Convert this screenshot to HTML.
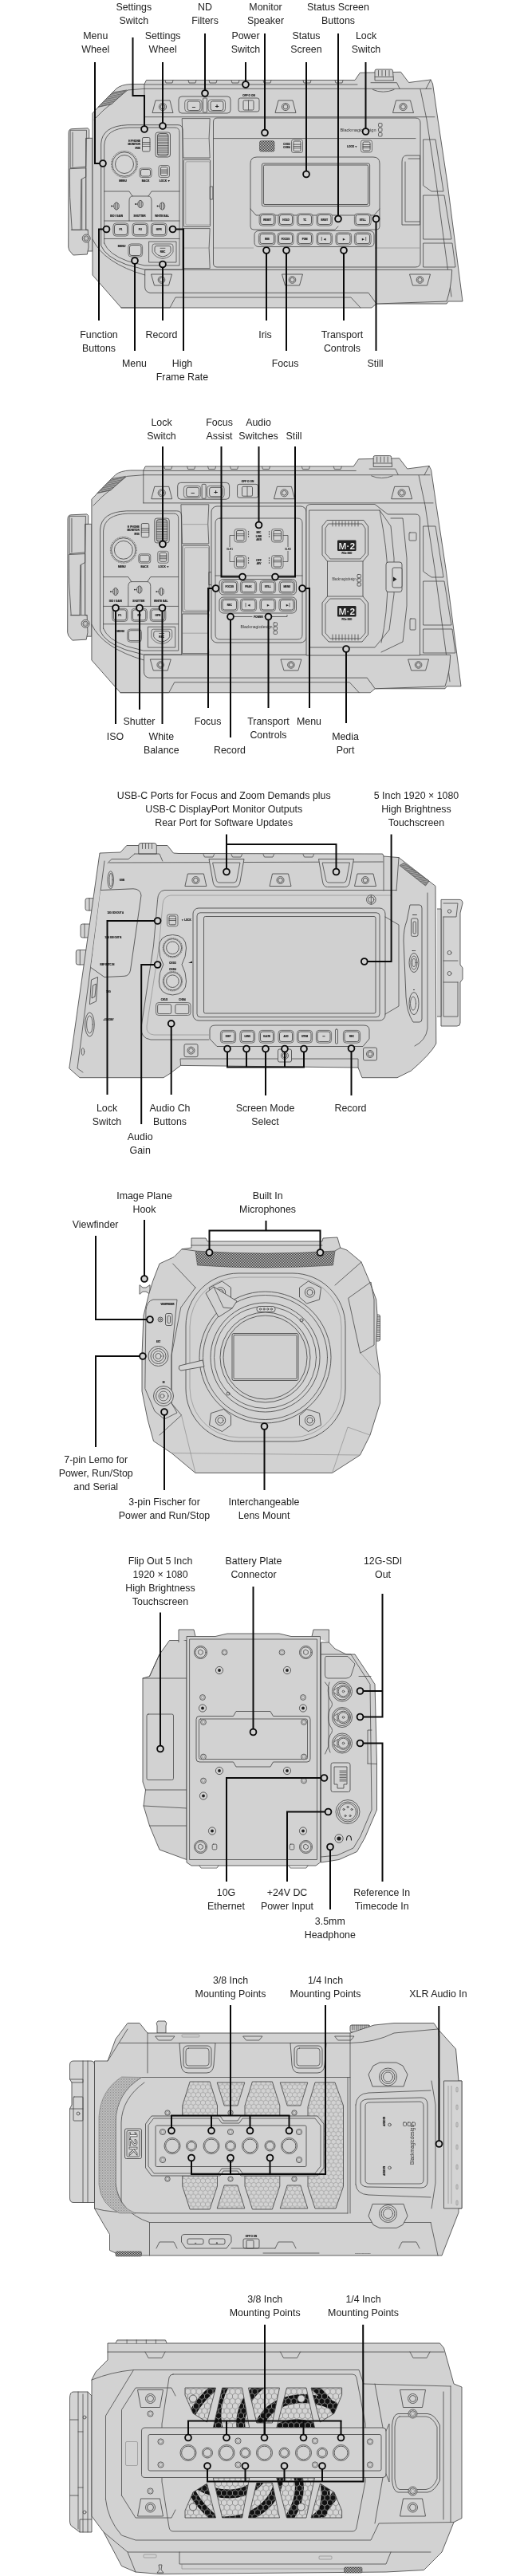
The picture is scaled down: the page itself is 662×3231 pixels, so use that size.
<!DOCTYPE html>
<html lang="en"><head><meta charset="utf-8"><title>Camera Controls</title>
<style>
html,body{margin:0;padding:0;background:#fff}
svg{display:block;will-change:transform}
.s{fill:#d2d2d2;stroke:#474747;stroke-width:.85;stroke-linejoin:round}
.s2{fill:#d2d2d2;stroke:#474747;stroke-width:.7}
.s3{fill:#d4d4d4;stroke:#3c3c3c;stroke-width:.8}
.l{fill:#d4d4d4;stroke:#474747;stroke-width:.85;stroke-linejoin:round}
.d{fill:#d0d0d0;stroke:#474747;stroke-width:.85;stroke-linejoin:round}
.n{fill:none;stroke:#474747;stroke-width:.8;stroke-linejoin:round;stroke-linecap:round}
.n2{fill:none;stroke:#7a7a7a;stroke-width:.55}
.h{fill:#555;stroke:#333;stroke-width:.5}
.bk{fill:#222;stroke:none}
.hx{fill:url(#hex6);stroke:#474747;stroke-width:.85;stroke-linejoin:round}
.hx7{fill:url(#hex);stroke:#474747;stroke-width:.85;stroke-linejoin:round}
.hat{fill:url(#hat);stroke:#474747;stroke-width:.7}
.k{fill:none;stroke:#0a0a0a;stroke-width:2;stroke-linejoin:miter}
.kr{fill:#d2d2d2;stroke:#0a0a0a;stroke-width:1.85}
.t{font-family:"Liberation Sans",sans-serif;font-size:12.4px;fill:#222}
.y{font-family:"Liberation Sans",sans-serif;font-weight:bold;fill:#222;stroke:#222;stroke-width:.18}
.yl{font-family:"Liberation Sans",sans-serif;fill:#333}
</style></head>
<body>
<svg width="662" height="3231" viewBox="0 0 662 3231">
<defs>
<pattern id="hx" width="3" height="3" patternUnits="userSpaceOnUse"><rect width="3" height="3" fill="#bdbdbd"/><circle cx="1.5" cy="1.5" r="1" fill="#e8e8e8"/></pattern>
<pattern id="mesh" width="2" height="2" patternUnits="userSpaceOnUse"><rect width="2" height="2" fill="#3a3a3a"/><rect width="1" height="1" fill="#c4c4c4"/><rect x="1" y="1" width="1" height="1" fill="#c4c4c4"/></pattern>
<pattern id="hex" width="7.00" height="12.12" patternUnits="userSpaceOnUse" x="1" y="2"><path d="M3.50,0 L7.00,2.02 L7.00,6.06 L3.50,8.08 L0,6.06 L0,2.02Z M3.50,8.08 L3.50,12.12" fill="none" stroke="#8e8e8e" stroke-width=".9"/></pattern>
<pattern id="hex6" width="6.06" height="9.81" patternUnits="userSpaceOnUse"><rect width="6.06" height="9.81" fill="#d2d2d2"/><path d="M3.03,0 L6.06,1.64 L6.06,4.91 L3.03,6.54 L0,4.91 L0,1.64Z M3.03,6.54 L3.03,9.81" fill="none" stroke="#a3a3a3" stroke-width=".8"/></pattern>
<pattern id="hat" width="2.4" height="2.4" patternUnits="userSpaceOnUse" patternTransform="rotate(-12)"><rect width="2.4" height="2.4" fill="#a8a8a8"/><rect width="2.4" height="1.2" fill="#707070"/></pattern>
<pattern id="mesh3" width="2" height="2" patternUnits="userSpaceOnUse"><rect width="2" height="2" fill="#c6c6c6"/><rect width="1" height="1" fill="#8f8f8f"/><rect x="1" y="1" width="1" height="1" fill="#a8a8a8"/></pattern>
</defs>
<rect width="662" height="3231" fill="#fff"/>
<!-- d1 -->
<rect class="s" x="107.7" y="173.3" width="8.3" height="141.7"/>
<path class="s" d="M86,166.7 Q86,162 90,161.7 L110,160.8 L111.8,162.5 L111.8,173.3 L107.7,173.3 L107.7,288.3 L110.2,288.3 L111,310 L109.3,319 L91.8,320 L86.8,314 L85.7,310 Z"/>
<path class="n" d="M88.5,163.3 L108.5,163.3 L107.7,209 L88.5,210.8 Z"/>
<path class="n" d="M87.7,211.7 L107.7,210.8 L107.7,221.7 L101.8,225 L101,288.3 L90.2,288.3 L87.7,248 Z"/>
<path class="n" d="M89.3,288.3 L110.2,288.3 M102.7,225 L102.7,288 M91,166 L91,209"/>
<circle class="s" cx="108.2" cy="299" r="5"/>
<circle class="n" cx="108.2" cy="299" r="3.2"/>
<circle class="n2" cx="108.2" cy="299" r="1.8"/>
<path class="s" d="M183.5,100.5 L445,100.5 L451.3,91.3 L502.5,90.3 L512.5,103.5 L540,100 L542.5,105 L549,150 L561,230 L580,378 L562,378 L560,381 L472,381 L466,386 L152,386 L116,345 L116,142 L124,133.5 L146,111 Q152,106 165,105.5 L181,105.5 Z"/>
<path class="s" d="M470,101 L470,89 Q470,87 472,87 L490.5,87 Q492.5,87 492.5,89 L493.5,101 Z"/>
<path class="n" d="M474.5,88.5 L474.5,95"/>
<path class="n" d="M479,88.5 L479,95"/>
<path class="n" d="M483.5,88.5 L483.5,95"/>
<path class="n" d="M488,88.5 L488,95"/>
<path class="n" d="M470,96.5 L493,96.5"/>
<path class="n" d="M465,103.7 L497.5,103.7 L501,111 M467.5,112.5 Q480,118 494,112.5"/>
<path class="n" d="M181,106 L448,106"/>
<path class="n" d="M181,106 L181,146.7"/>
<path class="n" d="M181,111.3 L541,111.3"/>
<path class="n" d="M118,150 L130,138 L160,113 L181,111.3"/>
<path class="n" d="M181,146.7 L545,146.7"/>
<path class="n" d="M207,100.7 L208,104 L216,104 L217,100.7"/>
<path class="n" d="M236,100.7 L237,104 L245,104 L246,100.7"/>
<path class="n" d="M262,100.7 L263,104 L271,104 L272,100.7"/>
<path class="n" d="M290,100.7 L291,104 L299,104 L300,100.7"/>
<path class="n" d="M330,100.7 L331,104 L339,104 L340,100.7"/>
<path class="n" d="M380,100.7 L381,104 L389,104 L390,100.7"/>
<path class="n" d="M420,100.7 L421,104 L429,104 L430,100.7"/>
<path class="hat" d="M123,134.4 L141,116 L158.7,113 L145,126 L140,130.6Z"/>
<path class="n" d="M527,112 L535,150 L547,230 L566,372"/>
<path class="n" d="M540,100 L534,111.3"/>
<path class="s" d="M181.7,338.3 L566.7,338.3 Q566,360 560,378 L472,381 L462,367.3 L188,367.3 Q181.7,366 181.7,360 Z"/>
<path class="n" d="M152,386 L213,386 L220,373 L440,373 L452,386"/>
<path class="n" d="M116,300 Q130,330 181.7,345"/>
<path class="s" d="M189.5,344 L215.5,344 L211.5,358 L193.5,358Z"/>
<circle class="s" cx="202.5" cy="351" r="4.3"/>
<circle class="s" cx="202.5" cy="351" r="2.7"/>
<path class="s" d="M353.5,344 L379.5,344 L375.5,358 L357.5,358Z"/>
<circle class="s" cx="366.5" cy="351" r="4.3"/>
<circle class="s" cx="366.5" cy="351" r="2.7"/>
<path class="s" d="M513.5,344 L539.5,344 L535.5,358 L517.5,358Z"/>
<circle class="s" cx="526.5" cy="351" r="4.3"/>
<circle class="s" cx="526.5" cy="351" r="2.7"/>
<path class="s" d="M195,126 L213,126 L217,141.5 L191,141.5Z"/>
<circle class="s" cx="204" cy="134" r="4.6"/>
<circle class="s" cx="204" cy="134" r="2.9"/>
<path class="s" d="M349,126 L367,126 L371,141.5 L345,141.5Z"/>
<circle class="s" cx="358" cy="134" r="4.6"/>
<circle class="s" cx="358" cy="134" r="2.9"/>
<path class="s" d="M496.5,126 L514.5,126 L518.5,141.5 L492.5,141.5Z"/>
<circle class="s" cx="505.5" cy="134" r="4.6"/>
<circle class="s" cx="505.5" cy="134" r="2.9"/>
<rect class="s" x="224" y="121" width="65" height="21" rx="4"/>
<rect class="s2" x="231.7" y="125" width="21.3" height="15" rx="3.5"/>
<rect class="s3" x="235" y="127" width="16" height="11.5" rx="2.5"/>
<rect class="s2" x="261" y="125" width="21.5" height="15" rx="3.5"/>
<rect class="s3" x="264" y="127" width="16" height="11.5" rx="2.5"/>
<rect class="s" x="254.5" y="123" width="5" height="18" rx="1"/>
<text class="y" x="243" y="135.5" font-size="8" text-anchor="middle">&#8211;</text>
<text class="y" x="272" y="135.6" font-size="8" text-anchor="middle">+</text>
<rect class="s" x="299" y="123" width="26" height="17" rx="2.5"/>
<rect class="s3" x="305" y="126" width="13" height="12" rx="1.5"/>
<path class="n" d="M311.5,126 L311.5,138"/>
<text class="y" x="312" y="120.5" font-size="3.2" text-anchor="middle">OFF  O  ON</text>
<path class="s" d="M126.7,308 L126.7,180 Q128,158 160,156.7 L223,156.7 Q229,156.7 229,163 L229,338 L181,338 L158,331.7 Q132,322 126.7,308 Z"/>
<path class="n" d="M130.7,305 L130.7,182 Q132,161 162,160 L219,160 Q225,160 225,166 L225,333 L181,333 L160,327.5 Q136,319 130.7,305 Z"/>
<rect class="s3" x="178.5" y="172.5" width="9.5" height="17.5" rx="1.5"/>
<path class="n" d="M178.5,178.5 L188,178.5"/>
<path class="n" d="M178.5,181 L188,181"/>
<path class="n" d="M178.5,183.5 L188,183.5"/>
<text class="y" x="176" y="178" font-size="3.3" text-anchor="end">H PHONE</text>
<text class="y" x="176" y="182.3" font-size="3.3" text-anchor="end">MONITOR</text>
<text class="y" x="176" y="186.6" font-size="3.3" text-anchor="end">IRIS</text>
<rect class="s" x="195" y="166" width="18.5" height="31" rx="3"/>
<rect class="d" x="197.5" y="167.5" width="13.5" height="28" rx="3"/>
<path class="n" d="M197.5,169.7 L211,169.7"/>
<path class="n" d="M197.5,171.8 L211,171.8"/>
<path class="n" d="M197.5,174 L211,174"/>
<path class="n" d="M197.5,176.1 L211,176.1"/>
<path class="n" d="M197.5,178.3 L211,178.3"/>
<path class="n" d="M197.5,180.4 L211,180.4"/>
<path class="n" d="M197.5,182.6 L211,182.6"/>
<path class="n" d="M197.5,184.7 L211,184.7"/>
<path class="n" d="M197.5,186.9 L211,186.9"/>
<path class="n" d="M197.5,189 L211,189"/>
<path class="n" d="M197.5,191.2 L211,191.2"/>
<path class="n" d="M197.5,193.3 L211,193.3"/>
<circle class="s" cx="156" cy="206" r="16.5" stroke-dasharray="1.2 .9" stroke-width="1.6"/>
<circle class="s" cx="156" cy="206" r="15.2"/>
<circle class="l" cx="156" cy="206" r="11.5"/>
<rect class="s2" x="175" y="211" width="15" height="11.5" rx="2.5"/>
<rect class="s3" x="176.5" y="212.5" width="12" height="8.5" rx="2"/>
<rect class="s2" x="199" y="207.5" width="13.5" height="15" rx="2.5"/>
<rect class="s3" x="201.5" y="209.5" width="8.5" height="11" rx="1.5"/>
<path class="n" d="M201.5,213 L210,213"/>
<path class="n" d="M201.5,215 L210,215"/>
<path class="n" d="M201.5,217 L210,217"/>
<text class="y" x="154" y="228" font-size="3.3" text-anchor="middle">MENU</text>
<text class="y" x="182.5" y="228" font-size="3.3" text-anchor="middle">BACK</text>
<text class="y" x="206.5" y="228" font-size="3.3" text-anchor="middle">LOCK &#9660;</text>
<path class="n" d="M130.7,240 L162,240 L166,246 L186,246 L190,240 L225,240"/>
<path class="n" d="M130.7,277 L225,277"/>
<path class="n" d="M162,277 L162,252 Q162,246 166,246 M190,277 L190,252 Q190,246 186,246"/>
<ellipse class="s3" cx="146" cy="258.5" rx="3.2" ry="4.2"/>
<rect class="s3" x="144.8" y="253.9" width="2.4" height="9.2" rx="1"/>
<circle class="bk" cx="140" cy="258.5" r="0.9"/>
<path class="n" d="M141,258.5 L142.8,258.5"/>
<ellipse class="s3" cx="176" cy="256" rx="3.2" ry="4.2"/>
<rect class="s3" x="174.8" y="251.4" width="2.4" height="9.2" rx="1"/>
<circle class="bk" cx="170" cy="256" r="0.9"/>
<path class="n" d="M171,256 L172.8,256"/>
<ellipse class="s3" cx="203.5" cy="258.5" rx="3.2" ry="4.2"/>
<rect class="s3" x="202.3" y="253.9" width="2.4" height="9.2" rx="1"/>
<circle class="bk" cx="197.5" cy="258.5" r="0.9"/>
<path class="n" d="M198.5,258.5 L200.3,258.5"/>
<text class="y" x="146" y="271.5" font-size="3.2" text-anchor="middle">ISO / GAIN</text>
<text class="y" x="175" y="271.5" font-size="3.2" text-anchor="middle">SHUTTER</text>
<text class="y" x="203" y="271.5" font-size="3.2" text-anchor="middle">WHITE BAL</text>
<rect class="s2" x="141.9" y="279.9" width="19.2" height="16.2" rx="3.7"/>
<rect class="s3" x="143.5" y="281.5" width="16" height="13" rx="2.5"/>
<text class="y" x="151.5" y="289.2" font-size="3.4" text-anchor="middle">F1</text>
<rect class="s2" x="165.9" y="279.9" width="19.7" height="16.2" rx="3.7"/>
<rect class="s3" x="167.5" y="281.5" width="16.5" height="13" rx="2.5"/>
<text class="y" x="175.8" y="289.2" font-size="3.4" text-anchor="middle">F2</text>
<rect class="s2" x="189.4" y="279.9" width="19.7" height="16.2" rx="3.7"/>
<rect class="s3" x="191" y="281.5" width="16.5" height="13" rx="2.5"/>
<text class="y" x="199.2" y="289.2" font-size="3.4" text-anchor="middle">HFR</text>
<path class="n" d="M130.7,299.5 L225,299.5"/>
<rect class="s2" x="160.9" y="305.9" width="17.7" height="16.2" rx="3.7"/>
<rect class="s3" x="162.5" y="307.5" width="14.5" height="13" rx="2.5"/>
<text class="y" x="152.5" y="309.5" font-size="3.3" text-anchor="middle">MENU</text>
<path class="n" d="M187,303 L221,303 L221,329 L187,329 Z"/>
<path class="s2" d="M193.5,306 L214.5,306 Q217,306 217,309 L217,316 Q214,323 204,324.5 Q194,323 191,316 L191,309 Q191,306 193.5,306Z"/>
<path class="s3" d="M196,308.5 L212,308.5 Q214,308.5 214,311 L214,315.5 Q211.5,320.5 204,322 Q196.5,320.5 194,315.5 L194,311 Q194,308.5 196,308.5Z"/>
<text class="y" x="204" y="317.2" font-size="3.2" text-anchor="middle">REC</text>
<path class="n" d="M201,311.3 L207,311.3"/>
<path class="n" d="M228.6,148.6 L263.2,148.6 Q261,173 263.2,198 L230.2,198 Z"/>
<path class="n2" d="M230.2,173.6 L262,173.6"/>
<rect class="s" x="230.2" y="200.2" width="33.4" height="84.1" rx="1.5"/>
<rect class="n2" x="232.8" y="202.8" width="30.4" height="79.2" rx="1.5"/>
<path class="n" d="M230.2,286.6 L263.2,286.6 Q261,311 263.2,336.6 L230.2,336.6 Z"/>
<path class="n2" d="M230.2,311 L262,311"/>
<rect class="n" x="263.6" y="234" width="3.2" height="16"/>
<path class="s" d="M272,148 L521,148 Q527,148 527,154 L527,329 Q527,335 521,335 L272,335 Q267.5,335 267.5,330 L267.5,153 Q267.5,148 272,148Z"/>
<path class="n" d="M268,173.6 L521,173.6"/>
<path class="n2" d="M268,311 L318,311 M470,311 L526,311"/>
<rect class="h" x="325.5" y="176.7" width="18.5" height="13.3" rx="2" style="fill:url(#mesh)"/>
<rect class="s2" x="365.5" y="175" width="14" height="16.5" rx="2.5"/>
<rect class="s3" x="368" y="177" width="9" height="12.5" rx="1.5"/>
<path class="n" d="M368,181.2 L377,181.2"/>
<path class="n" d="M368,183.5 L377,183.5"/>
<path class="n" d="M368,185.8 L377,185.8"/>
<text class="y" x="363.5" y="182" font-size="2.9" text-anchor="end">CH1/2</text>
<text class="y" x="363.5" y="186.2" font-size="2.9" text-anchor="end">CH3/4</text>
<text class="yl" x="426.5" y="164.5" font-size="5.6" text-anchor="start" textLength="45" lengthAdjust="spacingAndGlyphs">Blackmagicdesign</text>
<rect class="n" x="474.5" y="154.5" width="4.5" height="4.5" rx="1"/>
<rect class="n" x="474.5" y="160.5" width="4.5" height="4.5" rx="1"/>
<rect class="n" x="474.5" y="166.5" width="4.5" height="4.5" rx="1"/>
<rect class="s2" x="452.5" y="176" width="14" height="15" rx="2.5"/>
<rect class="s3" x="455" y="178" width="9" height="11" rx="1.5"/>
<path class="n" d="M455,181.5 L464,181.5"/>
<path class="n" d="M455,183.5 L464,183.5"/>
<path class="n" d="M455,185.5 L464,185.5"/>
<text class="y" x="441.5" y="184.5" font-size="3.2" text-anchor="middle">LOCK &#9660;</text>
<path class="s" d="M322,197 L468,197 Q476,197 476,205 L476,262 L469,270 L321,270 L314,262 L314,205 Q314,197 322,197Z"/>
<rect class="d" x="328.4" y="205" width="135.2" height="53.5" rx="2"/>
<rect class="d" x="330.5" y="207" width="131" height="49.5" rx="1.5"/>
<path class="n" d="M314,262 L314,284 Q314,288 318,288 L420,288 L424,284 M476,262 L476,284 Q476,288 472,288 L440,288"/>
<rect class="s2" x="325.1" y="267.9" width="20.2" height="15.2" rx="3.7"/>
<rect class="s3" x="326.7" y="269.5" width="17" height="12" rx="2.5"/>
<text class="y" x="335.2" y="276.6" font-size="3" text-anchor="middle">RESET</text>
<rect class="s2" x="348.9" y="267.9" width="19.2" height="15.2" rx="3.7"/>
<rect class="s3" x="350.5" y="269.5" width="16" height="12" rx="2.5"/>
<text class="y" x="358.5" y="276.6" font-size="3" text-anchor="middle">HOLD</text>
<rect class="s2" x="372.4" y="267.9" width="19.7" height="15.2" rx="3.7"/>
<rect class="s3" x="374" y="269.5" width="16.5" height="12" rx="2.5"/>
<text class="y" x="382.2" y="276.6" font-size="3" text-anchor="middle">TC</text>
<rect class="s2" x="396.9" y="267.9" width="19.7" height="15.2" rx="3.7"/>
<rect class="s3" x="398.5" y="269.5" width="16.5" height="12" rx="2.5"/>
<text class="y" x="406.8" y="276.6" font-size="3" text-anchor="middle">BRGT</text>
<rect class="s2" x="444.4" y="267.9" width="20.7" height="15.2" rx="3.7"/>
<rect class="s3" x="446" y="269.5" width="17.5" height="12" rx="2.5"/>
<text class="y" x="454.8" y="276.6" font-size="3" text-anchor="middle">STILL</text>
<rect class="s" x="319" y="289.5" width="150" height="20" rx="5"/>
<rect class="s2" x="324.4" y="291.9" width="20.7" height="15.2" rx="3.7"/>
<rect class="s3" x="326" y="293.5" width="17.5" height="12" rx="2.5"/>
<text class="y" x="334.8" y="300.6" font-size="3" text-anchor="middle">IRIS</text>
<rect class="s2" x="347.9" y="291.9" width="20.2" height="15.2" rx="3.7"/>
<rect class="s3" x="349.5" y="293.5" width="17" height="12" rx="2.5"/>
<text class="y" x="358" y="300.6" font-size="3" text-anchor="middle">FOCUS</text>
<rect class="s2" x="372.4" y="291.9" width="19.7" height="15.2" rx="3.7"/>
<rect class="s3" x="374" y="293.5" width="16.5" height="12" rx="2.5"/>
<text class="y" x="382.2" y="300.6" font-size="3" text-anchor="middle">PGM</text>
<rect class="s2" x="396.9" y="291.9" width="19.7" height="15.2" rx="3.7"/>
<rect class="s3" x="398.5" y="293.5" width="16.5" height="12" rx="2.5"/>
<text class="y" x="406.8" y="300.6" font-size="3" text-anchor="middle">&#9664;</text>
<rect class="s2" x="420.9" y="291.9" width="19.7" height="15.2" rx="3.7"/>
<rect class="s3" x="422.5" y="293.5" width="16.5" height="12" rx="2.5"/>
<text class="y" x="430.8" y="300.6" font-size="3" text-anchor="middle">&#9654;</text>
<rect class="s2" x="444.4" y="291.9" width="20.7" height="15.2" rx="3.7"/>
<rect class="s3" x="446" y="293.5" width="17.5" height="12" rx="2.5"/>
<text class="y" x="454.8" y="300.6" font-size="3" text-anchor="middle">&#9654;</text>
<path class="n" d="M403.3,297.5 L403.3,301.5"/>
<path class="n" d="M458.7,297.5 L458.7,301.5"/>
<path class="s" d="M510,195 L526.5,195 L526.5,282 L504,282 L504,203 Q504,195 510,195Z"/>
<path class="n" d="M512,199 L526.5,199 M508,203 L508,278 L526.5,278"/>
<path class="n" d="M531,175 L546,175 L556,240 L541,240 L531,233Z"/>
<path class="n" d="M531,245 L557,245 L566,300 L531,300Z"/>
<path class="n" d="M531,305 L567,305 L571,335 L531,335Z"/>
<text class="t" x="167.8" y="12.6" text-anchor="middle">Settings</text>
<text class="t" x="167.8" y="29.6" text-anchor="middle">Switch</text>
<text class="t" x="257" y="12.6" text-anchor="middle">ND</text>
<text class="t" x="257" y="29.6" text-anchor="middle">Filters</text>
<text class="t" x="333" y="12.6" text-anchor="middle">Monitor</text>
<text class="t" x="333" y="29.6" text-anchor="middle">Speaker</text>
<text class="t" x="424" y="12.6" text-anchor="middle">Status Screen</text>
<text class="t" x="424" y="29.6" text-anchor="middle">Buttons</text>
<text class="t" x="119.8" y="48.8" text-anchor="middle">Menu</text>
<text class="t" x="119.8" y="65.8" text-anchor="middle">Wheel</text>
<text class="t" x="204.1" y="48.8" text-anchor="middle">Settings</text>
<text class="t" x="204.1" y="65.8" text-anchor="middle">Wheel</text>
<text class="t" x="308" y="48.8" text-anchor="middle">Power</text>
<text class="t" x="308" y="65.8" text-anchor="middle">Switch</text>
<text class="t" x="384" y="48.8" text-anchor="middle">Status</text>
<text class="t" x="384" y="65.8" text-anchor="middle">Screen</text>
<text class="t" x="459" y="48.8" text-anchor="middle">Lock</text>
<text class="t" x="459" y="65.8" text-anchor="middle">Switch</text>
<text class="t" x="124" y="423.8" text-anchor="middle">Function</text>
<text class="t" x="124" y="440.8" text-anchor="middle">Buttons</text>
<text class="t" x="202.5" y="423.8" text-anchor="middle">Record</text>
<text class="t" x="332.5" y="423.8" text-anchor="middle">Iris</text>
<text class="t" x="429" y="423.8" text-anchor="middle">Transport</text>
<text class="t" x="429" y="440.8" text-anchor="middle">Controls</text>
<text class="t" x="168.5" y="459.5" text-anchor="middle">Menu</text>
<text class="t" x="228.5" y="459.5" text-anchor="middle">High</text>
<text class="t" x="228.5" y="476.5" text-anchor="middle">Frame Rate</text>
<text class="t" x="357.5" y="459.5" text-anchor="middle">Focus</text>
<text class="t" x="470.5" y="459.5" text-anchor="middle">Still</text>
<path class="k" d="M119,78 L119,205 L126,205"/>
<circle class="kr" cx="129" cy="205" r="3.9"/>
<path class="k" d="M166.5,47 L166.5,120 L181,120 L181,159"/>
<circle class="kr" cx="181" cy="162" r="3.9"/>
<path class="k" d="M204,78 L204,155"/>
<circle class="kr" cx="204" cy="158" r="3.9"/>
<path class="k" d="M257,42 L257,114"/>
<circle class="kr" cx="257" cy="117" r="3.9"/>
<path class="k" d="M308,78 L308,103"/>
<circle class="kr" cx="308" cy="106" r="3.9"/>
<path class="k" d="M332,42 L332,163"/>
<circle class="kr" cx="332" cy="166.5" r="3.9"/>
<path class="k" d="M384,78 L384,215"/>
<circle class="kr" cx="384" cy="218.5" r="3.9"/>
<path class="k" d="M424,42 L424,271"/>
<circle class="kr" cx="424" cy="274.5" r="3.9"/>
<path class="k" d="M458.5,78 L458.5,162"/>
<circle class="kr" cx="458.5" cy="165" r="3.9"/>
<path class="k" d="M124,402 L124,287.5 L130,287.5"/>
<circle class="kr" cx="133.5" cy="287.5" r="3.9"/>
<path class="k" d="M169,440 L169,330"/>
<circle class="kr" cx="169" cy="327" r="3.9"/>
<path class="k" d="M204,402 L204,335"/>
<circle class="kr" cx="204" cy="331.5" r="3.9"/>
<path class="k" d="M230,440 L230,287.5 L220,287.5"/>
<circle class="kr" cx="216.5" cy="287.5" r="3.9"/>
<path class="k" d="M334,402 L334,317"/>
<circle class="kr" cx="334" cy="314" r="3.9"/>
<path class="k" d="M359,440 L359,317"/>
<circle class="kr" cx="359" cy="314" r="3.9"/>
<path class="k" d="M431,402 L431,317"/>
<circle class="kr" cx="431" cy="314" r="3.9"/>
<path class="k" d="M471.5,440 L471.5,278"/>
<circle class="kr" cx="471.5" cy="274.5" r="3.9"/>
<!-- d2 -->
<g transform="translate(-0.85,485.1) scale(0.998,0.9939)">
<rect class="s" x="107.7" y="173.3" width="8.3" height="141.7"/>
<path class="s" d="M86,166.7 Q86,162 90,161.7 L110,160.8 L111.8,162.5 L111.8,173.3 L107.7,173.3 L107.7,288.3 L110.2,288.3 L111,310 L109.3,319 L91.8,320 L86.8,314 L85.7,310 Z"/>
<path class="n" d="M88.5,163.3 L108.5,163.3 L107.7,209 L88.5,210.8 Z"/>
<path class="n" d="M87.7,211.7 L107.7,210.8 L107.7,221.7 L101.8,225 L101,288.3 L90.2,288.3 L87.7,248 Z"/>
<path class="n" d="M89.3,288.3 L110.2,288.3 M102.7,225 L102.7,288 M91,166 L91,209"/>
<circle class="s" cx="108.2" cy="299" r="5"/>
<circle class="n" cx="108.2" cy="299" r="3.2"/>
<circle class="n2" cx="108.2" cy="299" r="1.8"/>
<path class="s" d="M183.5,100.5 L445,100.5 L451.3,91.3 L502.5,90.3 L512.5,103.5 L540,100 L542.5,105 L549,150 L561,230 L580,378 L562,378 L560,381 L472,381 L466,386 L152,386 L116,345 L116,142 L124,133.5 L146,111 Q152,106 165,105.5 L181,105.5 Z"/>
<path class="s" d="M470,101 L470,89 Q470,87 472,87 L490.5,87 Q492.5,87 492.5,89 L493.5,101 Z"/>
<path class="n" d="M474.5,88.5 L474.5,95"/>
<path class="n" d="M479,88.5 L479,95"/>
<path class="n" d="M483.5,88.5 L483.5,95"/>
<path class="n" d="M488,88.5 L488,95"/>
<path class="n" d="M470,96.5 L493,96.5"/>
<path class="n" d="M465,103.7 L497.5,103.7 L501,111 M467.5,112.5 Q480,118 494,112.5"/>
<path class="n" d="M181,106 L448,106"/>
<path class="n" d="M181,106 L181,146.7"/>
<path class="n" d="M181,111.3 L541,111.3"/>
<path class="n" d="M118,150 L130,138 L160,113 L181,111.3"/>
<path class="n" d="M181,146.7 L545,146.7"/>
<path class="n" d="M207,100.7 L208,104 L216,104 L217,100.7"/>
<path class="n" d="M236,100.7 L237,104 L245,104 L246,100.7"/>
<path class="n" d="M262,100.7 L263,104 L271,104 L272,100.7"/>
<path class="n" d="M290,100.7 L291,104 L299,104 L300,100.7"/>
<path class="n" d="M330,100.7 L331,104 L339,104 L340,100.7"/>
<path class="n" d="M380,100.7 L381,104 L389,104 L390,100.7"/>
<path class="n" d="M420,100.7 L421,104 L429,104 L430,100.7"/>
<path class="hat" d="M123,134.4 L141,116 L158.7,113 L145,126 L140,130.6Z"/>
<path class="n" d="M527,112 L535,150 L547,230 L566,372"/>
<path class="n" d="M540,100 L534,111.3"/>
<path class="s" d="M181.7,338.3 L566.7,338.3 Q566,360 560,378 L472,381 L462,367.3 L188,367.3 Q181.7,366 181.7,360 Z"/>
<path class="n" d="M152,386 L213,386 L220,373 L440,373 L452,386"/>
<path class="n" d="M116,300 Q130,330 181.7,345"/>
<path class="s" d="M189.5,344 L215.5,344 L211.5,358 L193.5,358Z"/>
<circle class="s" cx="202.5" cy="351" r="4.3"/>
<circle class="s" cx="202.5" cy="351" r="2.7"/>
<path class="s" d="M353.5,344 L379.5,344 L375.5,358 L357.5,358Z"/>
<circle class="s" cx="366.5" cy="351" r="4.3"/>
<circle class="s" cx="366.5" cy="351" r="2.7"/>
<path class="s" d="M513.5,344 L539.5,344 L535.5,358 L517.5,358Z"/>
<circle class="s" cx="526.5" cy="351" r="4.3"/>
<circle class="s" cx="526.5" cy="351" r="2.7"/>
<path class="s" d="M195,126 L213,126 L217,141.5 L191,141.5Z"/>
<circle class="s" cx="204" cy="134" r="4.6"/>
<circle class="s" cx="204" cy="134" r="2.9"/>
<path class="s" d="M349,126 L367,126 L371,141.5 L345,141.5Z"/>
<circle class="s" cx="358" cy="134" r="4.6"/>
<circle class="s" cx="358" cy="134" r="2.9"/>
<path class="s" d="M496.5,126 L514.5,126 L518.5,141.5 L492.5,141.5Z"/>
<circle class="s" cx="505.5" cy="134" r="4.6"/>
<circle class="s" cx="505.5" cy="134" r="2.9"/>
<rect class="s" x="224" y="121" width="65" height="21" rx="4"/>
<rect class="s2" x="231.7" y="125" width="21.3" height="15" rx="3.5"/>
<rect class="s3" x="235" y="127" width="16" height="11.5" rx="2.5"/>
<rect class="s2" x="261" y="125" width="21.5" height="15" rx="3.5"/>
<rect class="s3" x="264" y="127" width="16" height="11.5" rx="2.5"/>
<rect class="s" x="254.5" y="123" width="5" height="18" rx="1"/>
<text class="y" x="243" y="135.5" font-size="8" text-anchor="middle">&#8211;</text>
<text class="y" x="272" y="135.6" font-size="8" text-anchor="middle">+</text>
<rect class="s" x="299" y="123" width="26" height="17" rx="2.5"/>
<rect class="s3" x="305" y="126" width="13" height="12" rx="1.5"/>
<path class="n" d="M311.5,126 L311.5,138"/>
<text class="y" x="312" y="120.5" font-size="3.2" text-anchor="middle">OFF  O  ON</text>
<path class="s" d="M126.7,308 L126.7,180 Q128,158 160,156.7 L223,156.7 Q229,156.7 229,163 L229,338 L181,338 L158,331.7 Q132,322 126.7,308 Z"/>
<path class="n" d="M130.7,305 L130.7,182 Q132,161 162,160 L219,160 Q225,160 225,166 L225,333 L181,333 L160,327.5 Q136,319 130.7,305 Z"/>
<rect class="s3" x="178.5" y="172.5" width="9.5" height="17.5" rx="1.5"/>
<path class="n" d="M178.5,178.5 L188,178.5"/>
<path class="n" d="M178.5,181 L188,181"/>
<path class="n" d="M178.5,183.5 L188,183.5"/>
<text class="y" x="176" y="178" font-size="3.3" text-anchor="end">H PHONE</text>
<text class="y" x="176" y="182.3" font-size="3.3" text-anchor="end">MONITOR</text>
<text class="y" x="176" y="186.6" font-size="3.3" text-anchor="end">IRIS</text>
<rect class="s" x="195" y="166" width="18.5" height="31" rx="3"/>
<rect class="d" x="197.5" y="167.5" width="13.5" height="28" rx="3"/>
<path class="n" d="M197.5,169.7 L211,169.7"/>
<path class="n" d="M197.5,171.8 L211,171.8"/>
<path class="n" d="M197.5,174 L211,174"/>
<path class="n" d="M197.5,176.1 L211,176.1"/>
<path class="n" d="M197.5,178.3 L211,178.3"/>
<path class="n" d="M197.5,180.4 L211,180.4"/>
<path class="n" d="M197.5,182.6 L211,182.6"/>
<path class="n" d="M197.5,184.7 L211,184.7"/>
<path class="n" d="M197.5,186.9 L211,186.9"/>
<path class="n" d="M197.5,189 L211,189"/>
<path class="n" d="M197.5,191.2 L211,191.2"/>
<path class="n" d="M197.5,193.3 L211,193.3"/>
<circle class="s" cx="156" cy="206" r="16.5" stroke-dasharray="1.2 .9" stroke-width="1.6"/>
<circle class="s" cx="156" cy="206" r="15.2"/>
<circle class="l" cx="156" cy="206" r="11.5"/>
<rect class="s2" x="175" y="211" width="15" height="11.5" rx="2.5"/>
<rect class="s3" x="176.5" y="212.5" width="12" height="8.5" rx="2"/>
<rect class="s2" x="199" y="207.5" width="13.5" height="15" rx="2.5"/>
<rect class="s3" x="201.5" y="209.5" width="8.5" height="11" rx="1.5"/>
<path class="n" d="M201.5,213 L210,213"/>
<path class="n" d="M201.5,215 L210,215"/>
<path class="n" d="M201.5,217 L210,217"/>
<text class="y" x="154" y="228" font-size="3.3" text-anchor="middle">MENU</text>
<text class="y" x="182.5" y="228" font-size="3.3" text-anchor="middle">BACK</text>
<text class="y" x="206.5" y="228" font-size="3.3" text-anchor="middle">LOCK &#9660;</text>
<path class="n" d="M130.7,240 L162,240 L166,246 L186,246 L190,240 L225,240"/>
<path class="n" d="M130.7,277 L225,277"/>
<path class="n" d="M162,277 L162,252 Q162,246 166,246 M190,277 L190,252 Q190,246 186,246"/>
<ellipse class="s3" cx="146" cy="258.5" rx="3.2" ry="4.2"/>
<rect class="s3" x="144.8" y="253.9" width="2.4" height="9.2" rx="1"/>
<circle class="bk" cx="140" cy="258.5" r="0.9"/>
<path class="n" d="M141,258.5 L142.8,258.5"/>
<ellipse class="s3" cx="176" cy="256" rx="3.2" ry="4.2"/>
<rect class="s3" x="174.8" y="251.4" width="2.4" height="9.2" rx="1"/>
<circle class="bk" cx="170" cy="256" r="0.9"/>
<path class="n" d="M171,256 L172.8,256"/>
<ellipse class="s3" cx="203.5" cy="258.5" rx="3.2" ry="4.2"/>
<rect class="s3" x="202.3" y="253.9" width="2.4" height="9.2" rx="1"/>
<circle class="bk" cx="197.5" cy="258.5" r="0.9"/>
<path class="n" d="M198.5,258.5 L200.3,258.5"/>
<text class="y" x="146" y="271.5" font-size="3.2" text-anchor="middle">ISO / GAIN</text>
<text class="y" x="175" y="271.5" font-size="3.2" text-anchor="middle">SHUTTER</text>
<text class="y" x="203" y="271.5" font-size="3.2" text-anchor="middle">WHITE BAL</text>
<rect class="s2" x="141.9" y="279.9" width="19.2" height="16.2" rx="3.7"/>
<rect class="s3" x="143.5" y="281.5" width="16" height="13" rx="2.5"/>
<text class="y" x="151.5" y="289.2" font-size="3.4" text-anchor="middle">F1</text>
<rect class="s2" x="165.9" y="279.9" width="19.7" height="16.2" rx="3.7"/>
<rect class="s3" x="167.5" y="281.5" width="16.5" height="13" rx="2.5"/>
<text class="y" x="175.8" y="289.2" font-size="3.4" text-anchor="middle">F2</text>
<rect class="s2" x="189.4" y="279.9" width="19.7" height="16.2" rx="3.7"/>
<rect class="s3" x="191" y="281.5" width="16.5" height="13" rx="2.5"/>
<text class="y" x="199.2" y="289.2" font-size="3.4" text-anchor="middle">HFR</text>
<path class="n" d="M130.7,299.5 L225,299.5"/>
<rect class="s2" x="160.9" y="305.9" width="17.7" height="16.2" rx="3.7"/>
<rect class="s3" x="162.5" y="307.5" width="14.5" height="13" rx="2.5"/>
<text class="y" x="152.5" y="309.5" font-size="3.3" text-anchor="middle">MENU</text>
<path class="n" d="M187,303 L221,303 L221,329 L187,329 Z"/>
<path class="s2" d="M193.5,306 L214.5,306 Q217,306 217,309 L217,316 Q214,323 204,324.5 Q194,323 191,316 L191,309 Q191,306 193.5,306Z"/>
<path class="s3" d="M196,308.5 L212,308.5 Q214,308.5 214,311 L214,315.5 Q211.5,320.5 204,322 Q196.5,320.5 194,315.5 L194,311 Q194,308.5 196,308.5Z"/>
<text class="y" x="204" y="317.2" font-size="3.2" text-anchor="middle">REC</text>
<path class="n" d="M201,311.3 L207,311.3"/>
<path class="n" d="M228.6,148.6 L263.2,148.6 Q261,173 263.2,198 L230.2,198 Z"/>
<path class="n2" d="M230.2,173.6 L262,173.6"/>
<rect class="s" x="230.2" y="200.2" width="33.4" height="84.1" rx="1.5"/>
<rect class="n2" x="232.8" y="202.8" width="30.4" height="79.2" rx="1.5"/>
<path class="n" d="M230.2,286.6 L263.2,286.6 Q261,311 263.2,336.6 L230.2,336.6 Z"/>
<path class="n2" d="M230.2,311 L262,311"/>
<rect class="n" x="263.6" y="234" width="3.2" height="16"/>
</g>
<rect class="s" x="265" y="635" width="119" height="171" rx="7"/>
<path class="n" d="M276,650 L373,650 Q379,650 379,656 L379,796 Q379,802 373,802 L276,802 Q270,802 270,796 L270,656 Q270,650 276,650Z"/>
<path class="n" d="M270,722 L379,722"/>
<rect class="s2" x="294" y="663.5" width="14.5" height="16.5" rx="3"/>
<rect class="s3" x="296.5" y="665.5" width="9.5" height="12.5" rx="1.5"/>
<path class="n" d="M296.5,669.7 L306,669.7"/>
<path class="n" d="M296.5,671.8 L306,671.8"/>
<rect class="s2" x="294" y="696.5" width="14.5" height="16.5" rx="3"/>
<rect class="s3" x="296.5" y="698.5" width="9.5" height="12.5" rx="1.5"/>
<path class="n" d="M296.5,702.7 L306,702.7"/>
<path class="n" d="M296.5,704.8 L306,704.8"/>
<rect class="s2" x="340.5" y="663.5" width="14.5" height="16.5" rx="3"/>
<rect class="s3" x="343" y="665.5" width="9.5" height="12.5" rx="1.5"/>
<path class="n" d="M343,669.7 L352.5,669.7"/>
<path class="n" d="M343,671.8 L352.5,671.8"/>
<rect class="s2" x="340.5" y="696.5" width="14.5" height="16.5" rx="3"/>
<rect class="s3" x="343" y="698.5" width="9.5" height="12.5" rx="1.5"/>
<path class="n" d="M343,702.7 L352.5,702.7"/>
<path class="n" d="M343,704.8 L352.5,704.8"/>
<circle class="bk" cx="311.5" cy="667" r="0.7"/>
<circle class="bk" cx="337.5" cy="667" r="0.7"/>
<circle class="bk" cx="311.5" cy="670" r="0.7"/>
<circle class="bk" cx="337.5" cy="670" r="0.7"/>
<circle class="bk" cx="311.5" cy="673" r="0.7"/>
<circle class="bk" cx="337.5" cy="673" r="0.7"/>
<circle class="bk" cx="311.5" cy="700" r="0.7"/>
<circle class="bk" cx="337.5" cy="700" r="0.7"/>
<circle class="bk" cx="311.5" cy="703" r="0.7"/>
<circle class="bk" cx="337.5" cy="703" r="0.7"/>
<circle class="bk" cx="311.5" cy="706" r="0.7"/>
<circle class="bk" cx="337.5" cy="706" r="0.7"/>
<path class="n" d="M294,671.5 L288,671.5 L288,704.5 L294,704.5 M355,671.5 L361,671.5 L361,704.5 L355,704.5"/>
<text class="y" x="288" y="690.3" font-size="3.1" text-anchor="middle" style="paint-order:stroke;stroke:#d2d2d2;stroke-width:2">XLR1</text>
<text class="y" x="361" y="690.3" font-size="3.1" text-anchor="middle" style="paint-order:stroke;stroke:#d2d2d2;stroke-width:2">XLR2</text>
<text class="y" x="324.5" y="669" font-size="3.2" text-anchor="middle">MIC</text>
<text class="y" x="324.5" y="673.6" font-size="3.2" text-anchor="middle">LINE</text>
<text class="y" x="324.5" y="678.2" font-size="3.2" text-anchor="middle">AES</text>
<text class="y" x="324.5" y="703.5" font-size="3.2" text-anchor="middle">OFF</text>
<text class="y" x="324.5" y="708.1" font-size="3.2" text-anchor="middle">48V</text>
<rect class="s" x="275" y="726.5" width="96.5" height="19.5" rx="5"/>
<rect class="s" x="275" y="749" width="96.5" height="20" rx="5"/>
<rect class="s2" x="277.4" y="728.4" width="20.7" height="15.7" rx="3.7"/>
<rect class="s3" x="279" y="730" width="17.5" height="12.5" rx="2.5"/>
<text class="y" x="287.8" y="737.3" font-size="3" text-anchor="middle">FOCUS</text>
<rect class="s2" x="301.4" y="728.4" width="20.2" height="15.7" rx="3.7"/>
<rect class="s3" x="303" y="730" width="17" height="12.5" rx="2.5"/>
<text class="y" x="311.5" y="737.3" font-size="3" text-anchor="middle">PEAK</text>
<rect class="s2" x="325.9" y="728.4" width="19.7" height="15.7" rx="3.7"/>
<rect class="s3" x="327.5" y="730" width="16.5" height="12.5" rx="2.5"/>
<text class="y" x="335.8" y="737.3" font-size="3" text-anchor="middle">STILL</text>
<rect class="s2" x="349.9" y="728.4" width="19.7" height="15.7" rx="3.7"/>
<rect class="s3" x="351.5" y="730" width="16.5" height="12.5" rx="2.5"/>
<text class="y" x="359.8" y="737.3" font-size="3" text-anchor="middle">MENU</text>
<rect class="s2" x="277.4" y="750.9" width="20.7" height="15.7" rx="3.7"/>
<rect class="s3" x="279" y="752.5" width="17.5" height="12.5" rx="2.5"/>
<text class="y" x="287.8" y="759.8" font-size="3" text-anchor="middle">REC</text>
<rect class="s2" x="301.4" y="750.9" width="20.2" height="15.7" rx="3.7"/>
<rect class="s3" x="303" y="752.5" width="17" height="12.5" rx="2.5"/>
<text class="y" x="311.5" y="759.8" font-size="3" text-anchor="middle">&#9664;</text>
<rect class="s2" x="325.9" y="750.9" width="19.7" height="15.7" rx="3.7"/>
<rect class="s3" x="327.5" y="752.5" width="16.5" height="12.5" rx="2.5"/>
<text class="y" x="335.8" y="759.8" font-size="3" text-anchor="middle">&#9654;</text>
<rect class="s2" x="349.9" y="750.9" width="19.7" height="15.7" rx="3.7"/>
<rect class="s3" x="351.5" y="752.5" width="16.5" height="12.5" rx="2.5"/>
<text class="y" x="359.8" y="759.8" font-size="3" text-anchor="middle">&#9654;</text>
<path class="n" d="M308,756.5 L308,761"/>
<path class="n" d="M363,756.5 L363,761"/>
<text class="y" x="324" y="774.7" font-size="3" text-anchor="middle">POWER</text>
<path class="n" d="M293,773.5 L316,773.5 M332,773.5 L360,773.5 L360,771.5"/>
<text class="yl" x="301.5" y="788.3" font-size="5.2" text-anchor="start" textLength="40" lengthAdjust="spacingAndGlyphs">Blackmagicdesign</text>
<rect class="n" x="343" y="780.8" width="4.5" height="4.2" rx="1"/>
<rect class="n" x="343" y="786" width="4.5" height="4.2" rx="1"/>
<rect class="n" x="343" y="791.2" width="4.5" height="4.2" rx="1"/>
<path class="s" d="M390,632.5 L470,632.5 L486,645 L521,645 Q526.5,645 526.5,651 L526.5,822 L384,822 L384,638 Q384,632.5 390,632.5Z"/>
<path class="n" d="M388,640 L476,640 L490,660 L494,700 L494,745 L488,790 L470,812 L388,812Z"/>
<path class="n" d="M476,640 Q486,690 486,725 Q486,770 478,806"/>
<path class="n" d="M490,650 L505,650 L510,700 L510,760 L505,805 L478,818"/>
<path class="s" d="M410,652.5 L456,652.5 L461.5,660 L461.5,696 L455,704 L455,748 L461.5,756 L461.5,796 L454,805 L412,805 L404,796 L404,756 L410.5,748 L410.5,704 L404,696 L404,660Z"/>
<path class="n" d="M412,657 L454,657 L458,663 L458,694 L452,701 L414,701 L408,694 L408,663Z"/>
<path class="n" d="M414,751 L452,751 L458,758 L458,794 L452,801 L414,801 L408,794 L408,758Z"/>
<path class="n" d="M417,654 L417,660"/>
<path class="n" d="M417,796 L417,803"/>
<path class="n" d="M421,654 L421,660"/>
<path class="n" d="M421,796 L421,803"/>
<path class="n" d="M425,654 L425,660"/>
<path class="n" d="M425,796 L425,803"/>
<path class="n" d="M429,654 L429,660"/>
<path class="n" d="M429,796 L429,803"/>
<path class="n" d="M433,654 L433,660"/>
<path class="n" d="M433,796 L433,803"/>
<path class="n" d="M437,654 L437,660"/>
<path class="n" d="M437,796 L437,803"/>
<path class="n" d="M441,654 L441,660"/>
<path class="n" d="M441,796 L441,803"/>
<path class="n" d="M445,654 L445,660"/>
<path class="n" d="M445,796 L445,803"/>
<path class="n" d="M449,654 L449,660"/>
<path class="n" d="M449,796 L449,803"/>
<path class="n" d="M410.5,704 L455,704"/>
<path class="n" d="M410.5,748 L455,748"/>
<rect class="bk" x="423" y="677.5" width="23.5" height="13.5" rx="1.2"/>
<text class="y" x="434.8" y="688.7" font-size="11.5" text-anchor="middle" style="fill:#fff" textLength="20.5" lengthAdjust="spacingAndGlyphs">M&#183;2</text>
<text class="y" x="434.8" y="695.3" font-size="2.8" text-anchor="middle">PCIe SSD</text>
<rect class="bk" x="423" y="760" width="23.5" height="13.5" rx="1.2"/>
<text class="y" x="434.8" y="771.2" font-size="11.5" text-anchor="middle" style="fill:#fff" textLength="20.5" lengthAdjust="spacingAndGlyphs">M&#183;2</text>
<text class="y" x="434.8" y="777.8" font-size="2.8" text-anchor="middle">PCIe SSD</text>
<text class="yl" x="416.5" y="728" font-size="5.2" text-anchor="start" textLength="30" lengthAdjust="spacingAndGlyphs">Blackmagicdesign</text>
<rect class="n" x="448" y="720.5" width="4.5" height="4.2" rx="1"/>
<rect class="n" x="448" y="725.7" width="4.5" height="4.2" rx="1"/>
<rect class="n" x="448" y="730.9" width="4.5" height="4.2" rx="1"/>
<rect class="l" x="484" y="705" width="20" height="37.5" rx="3"/>
<rect class="l" x="492" y="712" width="12" height="25" rx="2"/>
<path class="bk" d="M493,723.5 L497.5,726.5 L493,729.5Z"/>
<rect class="n" x="513" y="668" width="9" height="10" rx="1"/>
<path class="n" d="M531,660 L546,660 L556,724 L541,724 L531,717Z M531,729 L557,729 L566,784 L531,784Z M531,789 L567,789 L571,819 L531,819Z"/>
<rect class="n" x="514" y="776" width="7" height="14" rx="1"/>
<text class="t" x="202.5" y="533.8" text-anchor="middle">Lock</text>
<text class="t" x="202.5" y="550.8" text-anchor="middle">Switch</text>
<text class="t" x="275" y="533.8" text-anchor="middle">Focus</text>
<text class="t" x="275" y="550.8" text-anchor="middle">Assist</text>
<text class="t" x="324" y="533.8" text-anchor="middle">Audio</text>
<text class="t" x="324" y="550.8" text-anchor="middle">Switches</text>
<text class="t" x="368.5" y="550.8" text-anchor="middle">Still</text>
<text class="t" x="144.4" y="928" text-anchor="middle">ISO</text>
<text class="t" x="174.5" y="908.8" text-anchor="middle">Shutter</text>
<text class="t" x="202.3" y="928" text-anchor="middle">White</text>
<text class="t" x="202.3" y="945" text-anchor="middle">Balance</text>
<text class="t" x="260.5" y="908.8" text-anchor="middle">Focus</text>
<text class="t" x="288" y="945" text-anchor="middle">Record</text>
<text class="t" x="336.5" y="908.8" text-anchor="middle">Transport</text>
<text class="t" x="336.5" y="925.8" text-anchor="middle">Controls</text>
<text class="t" x="387.5" y="908.8" text-anchor="middle">Menu</text>
<text class="t" x="433" y="928" text-anchor="middle">Media</text>
<text class="t" x="433" y="945" text-anchor="middle">Port</text>
<path class="k" d="M204,560 L204,679"/>
<circle class="kr" cx="204" cy="682.5" r="3.9"/>
<path class="k" d="M277.5,560 L277.5,723.5 L300.5,723.5"/>
<circle class="kr" cx="304" cy="723.5" r="3.9"/>
<path class="k" d="M324.5,560 L324.5,655"/>
<circle class="kr" cx="324.5" cy="658.5" r="3.9"/>
<path class="k" d="M370,560 L370,723.5 L348.5,723.5"/>
<circle class="kr" cx="345" cy="723.5" r="3.9"/>
<path class="k" d="M145,908 L145,766"/>
<circle class="kr" cx="145" cy="762.5" r="3.9"/>
<path class="k" d="M175,890 L175,766"/>
<circle class="kr" cx="175" cy="762.5" r="3.9"/>
<path class="k" d="M203.5,908 L203.5,766"/>
<circle class="kr" cx="203.5" cy="762.5" r="3.9"/>
<path class="k" d="M261,888 L261,738 L267,738"/>
<circle class="kr" cx="270.5" cy="738" r="3.9"/>
<path class="k" d="M289,925 L289,777"/>
<circle class="kr" cx="289" cy="773.5" r="3.9"/>
<path class="k" d="M336.5,888 L336.5,777"/>
<circle class="kr" cx="336.5" cy="773.5" r="3.9"/>
<path class="k" d="M388,888 L388,738 L382.5,738"/>
<circle class="kr" cx="379" cy="738" r="3.9"/>
<path class="k" d="M434,907 L434,817.5"/>
<circle class="kr" cx="434" cy="814" r="3.9"/>
<!-- d3 -->
<path class="l" d="M553,1128.4 L576,1128.4 Q580,1128.4 580,1133 L577,1145 L577,1210 L580,1214 L580,1228 L577,1232 L577,1283 Q577,1287 573,1287 L553,1287 Z"/>
<path class="s" d="M548,1140 L553,1140 L553,1275 L548,1275"/>
<path class="n" d="M556,1133 L574,1133 L572,1150 L556,1150 M556,1150 L556,1275 L574,1275 L574,1232 M556,1205 L574,1205 M556,1232 L574,1232"/>
<circle class="n" cx="563.5" cy="1143" r="2.2"/>
<circle class="n" cx="563.5" cy="1195" r="2.5"/>
<circle class="n" cx="563.5" cy="1221" r="2.5"/>
<rect class="l" x="107" y="1126.7" width="23" height="15.3" rx="2.5"/>
<path class="n" d="M112,1126.7 L112,1142"/>
<circle class="n" cx="126" cy="1134.3" r="0.9"/>
<rect class="l" x="101" y="1159" width="26" height="17" rx="2.5"/>
<path class="n" d="M106,1159 L106,1176"/>
<circle class="n" cx="123" cy="1167.5" r="0.9"/>
<rect class="l" x="95.3" y="1191.5" width="26.7" height="18.5" rx="2.5"/>
<path class="n" d="M100.3,1191.5 L100.3,1210"/>
<circle class="n" cx="118" cy="1200.8" r="0.9"/>
<path class="s" d="M125,1070 L151,1069 L158.8,1060.5 L210,1060.5 L217.5,1070 L224,1070.5 L479.7,1071 L481,1074 L500,1075.6 L546,1111.4 L546.8,1309 Q540,1322 515.5,1343 L498,1351.7 L454,1351.7 L449,1339 L226.6,1336.4 L213,1346.6 L205,1351.7 L100,1351.7 L86.8,1340 Z"/>
<path class="s" d="M173.8,1071 L173.8,1060 Q174,1057.5 177,1057.5 L193,1057.5 Q196,1057.5 196.3,1060 L196.3,1071 Z"/>
<path class="n" d="M178.5,1058.5 L178.5,1064.5"/>
<path class="n" d="M182.5,1058.5 L182.5,1064.5"/>
<path class="n" d="M186.5,1058.5 L186.5,1064.5"/>
<path class="n" d="M190.5,1058.5 L190.5,1064.5"/>
<path class="n" d="M168.8,1071 L200,1071 L203.8,1080"/>
<path class="n" d="M131,1080 L97,1340 L104,1345"/>
<path class="n" d="M137,1082 L480,1081"/>
<path class="n" d="M135,1082.5 L140,1077.5 L161,1077.5 L168.8,1071"/>
<path class="hat" d="M501,1085.5 L506.5,1082.5 L538,1105 L533.5,1111Z"/>
<path class="n" d="M481,1074 L481,1117 M500,1075.6 L497,1117"/>
<path class="n" d="M255,1071.5 L256.5,1075 L267,1075 L268.5,1071.5"/>
<path class="n" d="M290,1071.5 L291.5,1075 L302,1075 L303.5,1071.5"/>
<path class="n" d="M330,1071.5 L331.5,1075 L342,1075 L343.5,1071.5"/>
<path class="n" d="M380,1071.5 L381.5,1075 L392,1075 L393.5,1071.5"/>
<ellipse class="l" cx="138.7" cy="1103.7" rx="3.7" ry="11"/>
<ellipse class="n" cx="139" cy="1103.7" rx="2" ry="8.5"/>
<text class="y" x="153" y="1105.3" font-size="3" text-anchor="middle">USB</text>
<path class="l" d="M126,1116.5 L167,1114.8 Q176,1115 177,1123 L163.5,1217 Q162,1224 156,1224.3 L131,1225.6 L114,1213.6"/>
<text class="y" x="144.8" y="1146" font-size="2.9" text-anchor="middle">12G SDI OUT A</text>
<text class="y" x="142" y="1177.2" font-size="2.9" text-anchor="middle">12G SDI OUT B</text>
<text class="y" x="134.5" y="1210.7" font-size="2.9" text-anchor="middle">REF IN/TC IN</text>
<text class="y" x="136" y="1245.2" font-size="2.9" text-anchor="middle">10G</text>
<text class="y" x="136" y="1279.6" font-size="2.9" text-anchor="middle">+12V/24V</text>
<path class="l" d="M114.5,1229 L122.6,1225.6 L120.5,1256 L112.4,1259.7Z"/>
<path class="d" d="M116.5,1236 L120.5,1234 L119,1250 L115,1252Z"/>
<ellipse class="l" cx="112.4" cy="1285" rx="5.8" ry="15"/>
<ellipse class="n" cx="112.4" cy="1285" rx="3.8" ry="11"/>
<ellipse class="n" cx="103.9" cy="1319" rx="1.8" ry="4.5"/>
<path class="n" d="M497,1116.5 L206,1116.5 Q198,1118 197.6,1128.4 L192.5,1186 L177,1288.6 Q176,1302 189,1304 L262,1304"/>
<path class="n2" d="M490,1123 L214,1123 Q205,1124 204,1134 L199,1190 L184,1287 Q183,1297 193,1298 L262,1298"/>
<path class="n" d="M226.6,1336.4 L226,1328 L449,1328 L449,1339"/>
<path class="s" d="M235.4,1096 L255.4,1096 L258.9,1111.5 L231.9,1111.5Z"/>
<circle class="s" cx="245.4" cy="1104" r="4.5"/>
<circle class="s" cx="245.4" cy="1104" r="2.8"/>
<path class="s" d="M341.5,1096 L361.5,1096 L365,1111.5 L338,1111.5Z"/>
<circle class="s" cx="351.5" cy="1104" r="4.5"/>
<circle class="s" cx="351.5" cy="1104" r="2.8"/>
<path class="s" d="M448,1096 L468,1096 L471.5,1111.5 L444.5,1111.5Z"/>
<circle class="s" cx="458" cy="1104" r="4.5"/>
<circle class="s" cx="458" cy="1104" r="2.8"/>
<path class="s" d="M262,1077.5 L306,1077.5 L301,1106 Q300,1112.5 295,1112.5 L273,1112.5 Q268,1112.5 267,1106 Z"/>
<path class="n" d="M267,1082 L301,1082 L297,1103 Q296.5,1107 293,1107 L275,1107 Q271.5,1107 271,1103 Z"/>
<path class="s" d="M399.5,1077.5 L443.5,1077.5 L438.5,1106 Q437.5,1112.5 432.5,1112.5 L410.5,1112.5 Q405.5,1112.5 404.5,1106 Z"/>
<path class="n" d="M404.5,1082 L438.5,1082 L434.5,1103 Q434.0,1107 430.5,1107 L412.5,1107 Q409.0,1107 408.5,1103 Z"/>
<rect class="s2" x="209.5" y="1147" width="13.5" height="14.8" rx="2.5"/>
<rect class="s3" x="212" y="1149" width="8.5" height="10.8" rx="1.5"/>
<path class="n" d="M212,1152.5 L220.5,1152.5"/>
<path class="n" d="M212,1154.5 L220.5,1154.5"/>
<text class="y" x="233.5" y="1155" font-size="3" text-anchor="middle">&#9660; LOCK</text>
<path class="s" d="M216.4,1172.5 Q233.5,1173 233.5,1189 Q233.5,1200 228,1209.7 Q233.5,1220 233.5,1231 Q233.5,1247 216.4,1248 Q199.3,1247 199.3,1231 Q199.3,1220 204.8,1209.7 Q199.3,1200 199.3,1189 Q199.3,1173 216.4,1172.5Z"/>
<circle class="s" cx="216.4" cy="1188.8" r="12.2" stroke-dasharray="1 .8" stroke-width="1.6"/>
<circle class="s" cx="216.4" cy="1188.8" r="11.2"/>
<circle class="l" cx="216.4" cy="1188.8" r="7.8"/>
<circle class="s" cx="216.4" cy="1230.7" r="12.2" stroke-dasharray="1 .8" stroke-width="1.6"/>
<circle class="s" cx="216.4" cy="1230.7" r="11.2"/>
<circle class="l" cx="216.4" cy="1230.7" r="7.8"/>
<text class="y" x="216.4" y="1208.6" font-size="3" text-anchor="middle">CH1/3</text>
<text class="y" x="216.4" y="1217.2" font-size="3" text-anchor="middle">CH2/4</text>
<path class="bk" d="M236,1208 L241,1205.5 L241,1208Z"/>
<text class="y" x="206" y="1255" font-size="3" text-anchor="middle">CH1/2</text>
<text class="y" x="228.5" y="1255" font-size="3" text-anchor="middle">CH3/4</text>
<rect class="s2" x="195.5" y="1257.5" width="43.5" height="16" rx="3.5"/>
<rect class="s3" x="197.6" y="1259.7" width="17.1" height="11.9" rx="2"/>
<rect class="s3" x="219.8" y="1259.7" width="17" height="11.9" rx="2"/>
<rect class="s" x="242" y="1139" width="241" height="141" rx="7"/>
<rect class="s" x="247" y="1144.8" width="229" height="130.9" rx="4"/>
<rect class="d" x="255.5" y="1149.5" width="215.5" height="121.5" rx="2"/>
<path class="n" d="M483,1150 L500,1160 L500,1262 L483,1272"/>
<circle class="s" cx="465.3" cy="1128.4" r="5.8"/>
<circle class="n" cx="465.3" cy="1128.4" r="3.6"/>
<path class="n" d="M465.3,1122.5 L465.3,1134.3"/>
<path class="s" d="M514,1135 L526,1135 Q529,1135 529,1139 L529,1278 Q529,1282 526,1282 L518,1282 Q510,1270 509,1250 L506,1180 Q506,1165 510,1155 Z"/>
<path class="n" d="M536,1120 L536,1290 Q534,1305 520,1312"/>
<rect class="l" x="515.5" y="1152" width="8.5" height="22.4" rx="2"/>
<rect class="d" x="518" y="1156" width="3.5" height="15" rx="1.2"/>
<text class="y" x="519.8" y="1147.5" font-size="2.2" text-anchor="middle">HDMI</text>
<ellipse class="l" cx="519" cy="1207.5" rx="6" ry="12"/>
<ellipse class="n" cx="519" cy="1207.5" rx="4" ry="8.5"/>
<ellipse class="n" cx="519" cy="1207.5" rx="2.2" ry="5"/>
<text class="y" x="519" y="1192.5" font-size="2.2" text-anchor="middle">EXT</text>
<ellipse class="l" cx="519" cy="1258.6" rx="6" ry="14"/>
<ellipse class="n" cx="518" cy="1258.6" rx="3.5" ry="8.5"/>
<text class="y" x="519" y="1242" font-size="2.2" text-anchor="middle">IN</text>
<path class="s" d="M270,1286 L456,1286 Q463,1286 463,1292 L463,1303 L455,1312.5 L272,1312.5 L263,1303 L263,1292 Q263,1286 270,1286Z"/>
<rect class="s2" x="276.4" y="1292.4" width="19.2" height="15.7" rx="3.7"/>
<rect class="s3" x="278" y="1294" width="16" height="12.5" rx="2.5"/>
<text class="y" x="286" y="1301.3" font-size="2.8" text-anchor="middle">DISP</text>
<rect class="s2" x="300.9" y="1292.4" width="18.7" height="15.7" rx="3.7"/>
<rect class="s3" x="302.5" y="1294" width="15.5" height="12.5" rx="2.5"/>
<text class="y" x="310.2" y="1301.3" font-size="2.8" text-anchor="middle">LENS</text>
<rect class="s2" x="324.9" y="1292.4" width="19.2" height="15.7" rx="3.7"/>
<rect class="s3" x="326.5" y="1294" width="16" height="12.5" rx="2.5"/>
<text class="y" x="334.5" y="1301.3" font-size="2.8" text-anchor="middle">SLATE</text>
<rect class="s2" x="348.9" y="1292.4" width="19.2" height="15.7" rx="3.7"/>
<rect class="s3" x="350.5" y="1294" width="16" height="12.5" rx="2.5"/>
<text class="y" x="358.5" y="1301.3" font-size="2.8" text-anchor="middle">AUD</text>
<rect class="s2" x="372.4" y="1292.4" width="19.2" height="15.7" rx="3.7"/>
<rect class="s3" x="374" y="1294" width="16" height="12.5" rx="2.5"/>
<text class="y" x="382" y="1301.3" font-size="2.8" text-anchor="middle">STRM</text>
<rect class="s2" x="396.4" y="1292.4" width="19.2" height="15.7" rx="3.7"/>
<rect class="s3" x="398" y="1294" width="16" height="12.5" rx="2.5"/>
<text class="y" x="406" y="1301.3" font-size="2.8" text-anchor="middle">&#8226;&#8226;&#8226;</text>
<rect class="s2" x="430.4" y="1292.4" width="21.2" height="15.7" rx="3.7"/>
<rect class="s3" x="432" y="1294" width="18" height="12.5" rx="2.5"/>
<text class="y" x="441" y="1301.3" font-size="2.8" text-anchor="middle">REC</text>
<rect class="n" x="420.5" y="1291" width="3" height="18" rx="1"/>
<rect class="s" x="231" y="1309.6" width="17" height="16" rx="2"/>
<circle class="s" cx="239.5" cy="1317.6" r="4.5"/>
<circle class="s" cx="239.5" cy="1317.6" r="2.8"/>
<rect class="s" x="348.5" y="1316" width="17" height="16" rx="2"/>
<circle class="s" cx="357" cy="1324" r="4.5"/>
<circle class="s" cx="357" cy="1324" r="2.8"/>
<rect class="s" x="455.5" y="1314" width="17" height="16" rx="2"/>
<circle class="s" cx="464" cy="1322" r="4.5"/>
<circle class="s" cx="464" cy="1322" r="2.8"/>
<text class="t" x="280.7" y="1001.8" text-anchor="middle">USB-C Ports for Focus and Zoom Demands plus</text>
<text class="t" x="280.7" y="1018.8" text-anchor="middle">USB-C DisplayPort Monitor Outputs</text>
<text class="t" x="280.7" y="1035.8" text-anchor="middle">Rear Port for Software Updates</text>
<text class="t" x="522" y="1001.8" text-anchor="middle">5 Inch 1920 × 1080</text>
<text class="t" x="522" y="1018.8" text-anchor="middle">High Brightness</text>
<text class="t" x="522" y="1035.8" text-anchor="middle">Touchscreen</text>
<text class="t" x="134" y="1393.8" text-anchor="middle">Lock</text>
<text class="t" x="134" y="1410.8" text-anchor="middle">Switch</text>
<text class="t" x="213" y="1393.8" text-anchor="middle">Audio Ch</text>
<text class="t" x="213" y="1410.8" text-anchor="middle">Buttons</text>
<text class="t" x="175.7" y="1430" text-anchor="middle">Audio</text>
<text class="t" x="175.7" y="1447" text-anchor="middle">Gain</text>
<text class="t" x="332.5" y="1393.8" text-anchor="middle">Screen Mode</text>
<text class="t" x="332.5" y="1410.8" text-anchor="middle">Select</text>
<text class="t" x="439.5" y="1393.8" text-anchor="middle">Record</text>
<path class="k" d="M284,1046.5 L284,1090"/>
<circle class="kr" cx="284" cy="1093.5" r="3.9"/>
<path class="k" d="M284,1059 L421.5,1059 L421.5,1090"/>
<circle class="kr" cx="421.5" cy="1093.5" r="3.9"/>
<path class="k" d="M490.6,1046.5 L490.6,1206 L460.3,1206"/>
<circle class="kr" cx="456.8" cy="1206" r="3.9"/>
<path class="k" d="M134.5,1373 L134.5,1155 L194,1155"/>
<circle class="kr" cx="197.6" cy="1155" r="3.9"/>
<path class="k" d="M177.2,1410 L177.2,1210 L194,1210"/>
<circle class="kr" cx="197.6" cy="1210" r="3.9"/>
<path class="k" d="M214.7,1373 L214.7,1287.4"/>
<circle class="kr" cx="214.7" cy="1283.9" r="3.9"/>
<path class="k" d="M285,1338.5 L285,1319"/>
<circle class="kr" cx="285" cy="1315.5" r="3.9"/>
<path class="k" d="M309,1338.5 L309,1319"/>
<circle class="kr" cx="309" cy="1315.5" r="3.9"/>
<path class="k" d="M333,1338.5 L333,1319"/>
<circle class="kr" cx="333" cy="1315.5" r="3.9"/>
<path class="k" d="M357,1338.5 L357,1319"/>
<circle class="kr" cx="357" cy="1315.5" r="3.9"/>
<path class="k" d="M381,1338.5 L381,1319"/>
<circle class="kr" cx="381" cy="1315.5" r="3.9"/>
<path class="k" d="M284,1338.5 L382,1338.5"/>
<path class="k" d="M333,1338.5 L333,1374"/>
<path class="k" d="M440.5,1374 L440.5,1318.5"/>
<circle class="kr" cx="440.5" cy="1315" r="3.9"/>
<!-- d4 -->
<rect class="l" x="468" y="1649" width="8.5" height="33" rx="2"/>
<path class="n" d="M468,1651.8 L476.5,1651.8"/>
<path class="n" d="M468,1654.5 L476.5,1654.5"/>
<path class="n" d="M468,1657.2 L476.5,1657.2"/>
<path class="n" d="M468,1660 L476.5,1660"/>
<path class="n" d="M468,1662.8 L476.5,1662.8"/>
<path class="n" d="M468,1665.5 L476.5,1665.5"/>
<path class="n" d="M468,1668.2 L476.5,1668.2"/>
<path class="n" d="M468,1671 L476.5,1671"/>
<path class="n" d="M468,1673.8 L476.5,1673.8"/>
<path class="n" d="M468,1676.5 L476.5,1676.5"/>
<path class="n" d="M468,1679.2 L476.5,1679.2"/>
<path class="l" d="M175,1611.7 L179,1615 L183,1615 L188,1611.7 L188,1623.3 L183,1620 L179,1620 L175,1623.3 Z"/>
<path class="s" d="M240,1565 L240,1553 L258,1553 L260,1557 L404,1557 L405,1553 L423,1552 L426.7,1565 L435,1568 L453,1583 L463,1606.7 L471.7,1630 L473,1650 L471.5,1690 L476.5,1725 L476.5,1760 L464,1800 L451.5,1825 L416.5,1847.5 L245,1847.5 L215,1822.5 L192.5,1807.5 L185,1780 L178,1745 L178,1700 L180,1650 L186.7,1623 L191.7,1606.7 L200,1585 L218,1576.7 L228,1566.7 Z"/>
<path class="n" d="M228,1566.7 L245,1569 M426.7,1565 L420,1569 M216.7,1585 L245,1615 M453,1583 L420,1612"/>
<path class="n" d="M245,1615 L226.7,1640 L215,1700 L215,1760 L227.5,1775 L200,1800"/>
<path class="n" d="M437,1628 L465,1608 L469,1630 L469,1687 L452,1697 Z"/>
<path class="n2" d="M452,1697 L476.5,1725 M436,1790 L464,1800 M436,1790 L416.5,1847.5 M227.5,1775 L245,1847.5"/>
<path class="n2" d="M215,1822.5 L451.5,1825"/>
<path class="n" d="M240,1562 L404,1562"/>
<path class="h" d="M245,1569 Q332,1575 420,1569 L417.5,1587 Q332,1593 247.5,1587 Z" style="fill:url(#mesh)"/>
<rect class="s" x="233" y="1597" width="200" height="211" rx="66"/>
<rect class="n2" x="238" y="1602" width="190" height="201" rx="62"/>
<path class="s" d="M289.5,1627.0 L280.5,1635.0 L264.5,1630.0 L262.5,1615.0 L278.5,1607.0 L289.5,1615.0Z" stroke-linejoin="round"/>
<circle class="s" cx="276.5" cy="1621" r="6.2"/>
<circle class="n" cx="276.5" cy="1621" r="3.6"/>
<path class="s" d="M289.5,1775.5 L280.5,1767.5 L264.5,1772.5 L262.5,1787.5 L278.5,1795.5 L289.5,1787.5Z" stroke-linejoin="round"/>
<circle class="s" cx="276.5" cy="1781.5" r="6.2"/>
<circle class="n" cx="276.5" cy="1781.5" r="3.6"/>
<path class="s" d="M375.5,1627.0 L384.5,1635.0 L400.5,1630.0 L402.5,1615.0 L386.5,1607.0 L375.5,1615.0Z" stroke-linejoin="round"/>
<circle class="s" cx="388.5" cy="1621" r="6.2"/>
<circle class="n" cx="388.5" cy="1621" r="3.6"/>
<path class="s" d="M375.5,1775.5 L384.5,1767.5 L400.5,1772.5 L402.5,1787.5 L386.5,1795.5 L375.5,1787.5Z" stroke-linejoin="round"/>
<circle class="s" cx="388.5" cy="1781.5" r="6.2"/>
<circle class="n" cx="388.5" cy="1781.5" r="3.6"/>
<circle class="s" cx="332.5" cy="1702.5" r="82.5"/>
<circle class="n" cx="332.5" cy="1702.5" r="78"/>
<circle class="l" cx="332.5" cy="1702.5" r="68.5"/>
<circle class="n" cx="332.5" cy="1702.5" r="64"/>
<circle class="s" cx="332.5" cy="1702.5" r="56.5"/>
<circle class="d" cx="332.5" cy="1702.5" r="52.5"/>
<rect class="d" x="291" y="1672.5" width="83" height="59" rx="2"/>
<rect class="n" x="293" y="1674.5" width="79" height="55" rx="1"/>
<rect class="l" x="322" y="1638.5" width="23" height="7" rx="3"/>
<circle class="n" cx="326.5" cy="1642" r="1.1"/>
<circle class="n" cx="331.1" cy="1642" r="1.1"/>
<circle class="n" cx="335.7" cy="1642" r="1.1"/>
<circle class="n" cx="340.3" cy="1642" r="1.1"/>
<circle class="n" cx="378" cy="1656" r="2"/>
<circle class="n" cx="286" cy="1748" r="2"/>
<path class="l" d="M225,1713 Q223,1718 227,1719 L256,1714 L254,1706 Z"/>
<path class="s" d="M258,1622 L268,1614 L297,1632 L291,1641 L274,1652 Z"/>
<path class="n" d="M268,1614 L280,1640 L291,1641"/>
<path class="n" d="M183,1643 Q184,1632 192,1630 L222,1630 L215,1700 L215,1760 L222,1772 L206,1780 L194,1770 L182,1742 Z"/>
<text class="y" x="210" y="1636.8" font-size="2.7" text-anchor="middle">VIEWFINDER</text>
<circle class="l" cx="201" cy="1655" r="3"/>
<circle class="n" cx="201" cy="1655" r="1.3"/>
<rect class="l" x="207.5" y="1647.5" width="8.5" height="15" rx="2"/>
<rect class="d" x="210" y="1650.5" width="3.5" height="9" rx="1"/>
<text class="y" x="198.5" y="1684" font-size="2.7" text-anchor="middle">EXT</text>
<circle class="s" cx="198.5" cy="1701" r="12.5"/>
<circle class="l" cx="198.5" cy="1701" r="9.5"/>
<circle class="n" cx="198.5" cy="1701" r="6.5"/>
<circle class="n" cx="198.5" cy="1701" r="3.5"/>
<text class="y" x="205" y="1735" font-size="2.7" text-anchor="middle">IN</text>
<circle class="s" cx="205" cy="1751" r="12.5"/>
<circle class="l" cx="205" cy="1751" r="9.5"/>
<circle class="n" cx="205" cy="1751" r="6"/>
<circle class="n" cx="203.5" cy="1751" r="2.5"/>
<text class="t" x="181" y="1503.8" text-anchor="middle">Image Plane</text>
<text class="t" x="181" y="1520.8" text-anchor="middle">Hook</text>
<text class="t" x="119.6" y="1539.5" text-anchor="middle">Viewfinder</text>
<text class="t" x="335.6" y="1503.8" text-anchor="middle">Built In</text>
<text class="t" x="335.6" y="1520.8" text-anchor="middle">Microphones</text>
<text class="t" x="120.2" y="1834.5" text-anchor="middle">7-pin Lemo for</text>
<text class="t" x="120.2" y="1851.5" text-anchor="middle">Power, Run/Stop</text>
<text class="t" x="120.2" y="1868.5" text-anchor="middle">and Serial</text>
<text class="t" x="206" y="1887.5" text-anchor="middle">3-pin Fischer for</text>
<text class="t" x="206" y="1904.5" text-anchor="middle">Power and Run/Stop</text>
<text class="t" x="331" y="1887.5" text-anchor="middle">Interchangeable</text>
<text class="t" x="331" y="1904.5" text-anchor="middle">Lens Mount</text>
<path class="k" d="M181,1530 L181,1600.5"/>
<circle class="kr" cx="181" cy="1604" r="3.9"/>
<path class="k" d="M120,1550 L120,1655 L184.5,1655"/>
<circle class="kr" cx="188" cy="1655" r="3.9"/>
<path class="k" d="M262.5,1567.5 L262.5,1543.5 L401.5,1543.5 L401.5,1567.5"/>
<circle class="kr" cx="262.5" cy="1571" r="3.9"/>
<circle class="kr" cx="401.5" cy="1571" r="3.9"/>
<path class="k" d="M333.5,1531 L333.5,1543.5"/>
<path class="k" d="M120,1815 L120,1701 L175.5,1701"/>
<circle class="kr" cx="179" cy="1701" r="3.9"/>
<path class="k" d="M206,1869 L206,1774.5"/>
<circle class="kr" cx="206" cy="1771" r="3.9"/>
<path class="k" d="M331.5,1869 L331.5,1792.5"/>
<circle class="kr" cx="331.5" cy="1789" r="3.9"/>
<!-- d5 -->
<path class="s" d="M234,2057.5 L212.5,2057.5 L200,2075 L187.5,2102.5 L179,2105 L179,2235 L182.5,2245 L180,2265 L187.5,2290 L200,2320 L234,2332.5 Z"/>
<path class="s" d="M224,2060 L224,2044 L243,2044 L245,2052.5"/>
<path class="s" d="M391,2052.5 L393,2044 L412.5,2044 L412.5,2060"/>
<path class="n" d="M179,2105 L234,2105 M187.5,2102.5 L200,2075 M182.5,2245 L234,2245 M180,2265 L234,2268 M187.5,2290 L234,2290"/>
<rect class="n" x="184" y="2150" width="33.5" height="82.5" rx="2"/>
<path class="n" d="M201,2150 L201,2190"/>
<path class="s" d="M402.5,2060 L412.5,2060 L420,2068 L434,2075 L445,2075 L470,2112.5 L472.5,2212.5 L472.5,2270 L457.5,2305 L447.5,2322.5 L425,2332.5 L402.5,2336 Z"/>
<path class="n" d="M402.5,2075 L440,2075 L464,2112.5 L466,2270 L452,2303 L443,2318 L423,2327 L402.5,2329"/>
<path class="n" d="M450,2102.5 L465,2102.5 M461,2212 L472.5,2212.5 M461,2212 L461,2170 L466,2170"/>
<path class="n" d="M409,2077.5 L436,2077.5 L445,2087 L440,2102 Q438,2105 434,2105 L411,2105 Q407.5,2105 407.5,2101 L407.5,2080 Z"/>
<path class="n" d="M407.5,2110 L412,2116 L412,2190 L407.5,2200"/>
<path class="s" d="M234,2052.5 L270,2052.5 L285,2049 L350,2049 L365,2052.5 L401.5,2052.5 L401.5,2336 L396,2340 L240,2340 L234,2336 Z"/>
<path class="n" d="M238,2056 L397.5,2056 L397.5,2332.5 L238,2332.5 Z"/>
<circle class="l" cx="251.5" cy="2072.5" r="8"/>
<circle class="n" cx="251.5" cy="2072.5" r="6.6"/>
<path class="n" d="M251.5,2069.3 l2.8,1.6 l0,3.2 l-2.8,1.6 l-2.8,-1.6 l0,-3.2Z"/>
<circle class="l" cx="251.5" cy="2316.5" r="8"/>
<circle class="n" cx="251.5" cy="2316.5" r="6.6"/>
<path class="n" d="M251.5,2313.3 l2.8,1.6 l0,3.2 l-2.8,1.6 l-2.8,-1.6 l0,-3.2Z"/>
<circle class="l" cx="383.5" cy="2072.5" r="8"/>
<circle class="n" cx="383.5" cy="2072.5" r="6.6"/>
<path class="n" d="M383.5,2069.3 l2.8,1.6 l0,3.2 l-2.8,1.6 l-2.8,-1.6 l0,-3.2Z"/>
<circle class="l" cx="383.5" cy="2316.5" r="8"/>
<circle class="n" cx="383.5" cy="2316.5" r="6.6"/>
<path class="n" d="M383.5,2313.3 l2.8,1.6 l0,3.2 l-2.8,1.6 l-2.8,-1.6 l0,-3.2Z"/>
<circle class="l" cx="281.5" cy="2072.5" r="3.4"/>
<circle class="n2" cx="281.5" cy="2072.5" r="1.8"/>
<circle class="l" cx="353.5" cy="2072.5" r="3.4"/>
<circle class="n2" cx="353.5" cy="2072.5" r="1.8"/>
<circle class="l" cx="254" cy="2129" r="3.4"/>
<circle class="n2" cx="254" cy="2129" r="1.8"/>
<circle class="l" cx="380" cy="2129" r="3.4"/>
<circle class="n2" cx="380" cy="2129" r="1.8"/>
<circle class="l" cx="255" cy="2233.5" r="3.4"/>
<circle class="n2" cx="255" cy="2233.5" r="1.8"/>
<circle class="l" cx="381" cy="2233.5" r="3.4"/>
<circle class="n2" cx="381" cy="2233.5" r="1.8"/>
<rect class="n" x="266.2" y="2313.1" width="5.6" height="6.8" rx="1.5"/>
<rect class="n" x="363.2" y="2313.1" width="5.6" height="6.8" rx="1.5"/>
<circle class="l" cx="275" cy="2095" r="4.6"/>
<circle class="bk" cx="275" cy="2095" r="1.9"/>
<circle class="l" cx="360" cy="2095" r="4.6"/>
<circle class="bk" cx="360" cy="2095" r="1.9"/>
<circle class="l" cx="254" cy="2142.5" r="4.6"/>
<circle class="bk" cx="254" cy="2142.5" r="1.9"/>
<circle class="l" cx="380" cy="2142.5" r="4.6"/>
<circle class="bk" cx="380" cy="2142.5" r="1.9"/>
<circle class="l" cx="275" cy="2221" r="4.6"/>
<circle class="bk" cx="275" cy="2221" r="1.9"/>
<circle class="l" cx="360" cy="2221" r="4.6"/>
<circle class="bk" cx="360" cy="2221" r="1.9"/>
<circle class="l" cx="255" cy="2252.5" r="4.6"/>
<circle class="bk" cx="255" cy="2252.5" r="1.9"/>
<circle class="l" cx="266" cy="2296.5" r="4.6"/>
<circle class="bk" cx="266" cy="2296.5" r="1.9"/>
<circle class="l" cx="380" cy="2296.5" r="4.6"/>
<circle class="bk" cx="380" cy="2296.5" r="1.9"/>
<path class="s" d="M250,2152.5 L292.5,2152.5 L296,2146.5 L339,2146.5 L342.5,2152.5 L385,2152.5 Q389,2152.5 389,2156.5 L389,2206 Q389,2210 385,2210 L342.5,2210 L339,2216 L296,2216 L292.5,2210 L250,2210 Q246,2210 246,2206 L246,2156.5 Q246,2152.5 250,2152.5Z"/>
<rect class="n" x="249.5" y="2156" width="136" height="50.5" rx="2"/>
<circle class="l" cx="255" cy="2160" r="3.4"/>
<circle class="n2" cx="255" cy="2160" r="1.8"/>
<circle class="l" cx="381" cy="2160" r="3.4"/>
<circle class="n2" cx="381" cy="2160" r="1.8"/>
<circle class="l" cx="255" cy="2203.5" r="3.4"/>
<circle class="n2" cx="255" cy="2203.5" r="1.8"/>
<circle class="l" cx="381" cy="2203.5" r="3.4"/>
<circle class="n2" cx="381" cy="2203.5" r="1.8"/>
<path class="n" d="M250,2340 L252,2343 L272,2343 L274,2340 M362,2340 L364,2343 L384,2343 L386,2340"/>
<path class="n" d="M413,2110 Q409,2121 414,2132 Q419,2137.5 414,2143 Q409,2154 414,2165 Q419,2170.5 414,2176 Q409,2187 414,2198"/>
<circle class="s" cx="429" cy="2121.5" r="12.5"/>
<circle class="l" cx="429" cy="2121.5" r="10.5"/>
<circle class="s" cx="430.5" cy="2121.5" r="7.8"/>
<circle class="n" cx="430.5" cy="2121.5" r="6.3"/>
<circle class="n" cx="430.5" cy="2121.5" r="1.3"/>
<path class="n" d="M419.5,2119.5 l4,-3 M419.5,2123.5 l4,3"/>
<circle class="s" cx="429" cy="2154" r="12.5"/>
<circle class="l" cx="429" cy="2154" r="10.5"/>
<circle class="s" cx="430.5" cy="2154" r="7.8"/>
<circle class="n" cx="430.5" cy="2154" r="6.3"/>
<circle class="n" cx="430.5" cy="2154" r="1.3"/>
<path class="n" d="M419.5,2152 l4,-3 M419.5,2156 l4,3"/>
<circle class="s" cx="429" cy="2186.5" r="12.5"/>
<circle class="l" cx="429" cy="2186.5" r="10.5"/>
<circle class="s" cx="430.5" cy="2186.5" r="7.8"/>
<circle class="n" cx="430.5" cy="2186.5" r="6.3"/>
<circle class="n" cx="430.5" cy="2186.5" r="1.3"/>
<path class="n" d="M419.5,2184.5 l4,-3 M419.5,2188.5 l4,3"/>
<rect class="l" x="415" y="2211" width="24" height="36.5" rx="2.5"/>
<path class="s" d="M419,2216 L435,2216 L435,2238 L431,2238 L431,2243 L423,2243 L423,2238 L419,2238 Z"/>
<path class="n" d="M426,2221.1 L434,2221.1"/>
<path class="n" d="M426,2223.2 L434,2223.2"/>
<path class="n" d="M426,2225.4 L434,2225.4"/>
<path class="n" d="M426,2227.5 L434,2227.5"/>
<path class="n" d="M426,2229.6 L434,2229.6"/>
<path class="n" d="M426,2231.8 L434,2231.8"/>
<path class="n" d="M426,2233.9 L434,2233.9"/>
<circle class="s" cx="436" cy="2272.5" r="15"/>
<circle class="l" cx="436" cy="2272.5" r="12.5"/>
<circle class="n" cx="436" cy="2272.5" r="10.5"/>
<circle class="n" cx="431" cy="2269.5" r="1.1"/>
<circle class="n" cx="441" cy="2269.5" r="1.1"/>
<circle class="n" cx="433" cy="2277.5" r="1.1"/>
<circle class="n" cx="439" cy="2277.5" r="1.1"/>
<circle class="n" cx="436" cy="2266.5" r="1.1"/>
<circle class="l" cx="425" cy="2306" r="5.2"/>
<circle class="bk" cx="425" cy="2306" r="2.6"/>
<path class="n" d="M434.5,2308 Q434.5,2302.5 437.5,2302.5 Q440.5,2302.5 440.5,2308" style="stroke-width:1.2;stroke:#222"/>
<text class="t" x="201" y="1962" text-anchor="middle">Flip Out 5 Inch</text>
<text class="t" x="201" y="1979" text-anchor="middle">1920 × 1080</text>
<text class="t" x="201" y="1996" text-anchor="middle">High Brightness</text>
<text class="t" x="201" y="2013" text-anchor="middle">Touchscreen</text>
<text class="t" x="318" y="1962" text-anchor="middle">Battery Plate</text>
<text class="t" x="318" y="1979" text-anchor="middle">Connector</text>
<text class="t" x="480" y="1962" text-anchor="middle">12G-SDI</text>
<text class="t" x="480" y="1979" text-anchor="middle">Out</text>
<text class="t" x="283.5" y="2378.4" text-anchor="middle">10G</text>
<text class="t" x="283.5" y="2395.4" text-anchor="middle">Ethernet</text>
<text class="t" x="360" y="2378.4" text-anchor="middle">+24V DC</text>
<text class="t" x="360" y="2395.4" text-anchor="middle">Power Input</text>
<text class="t" x="478.7" y="2378.4" text-anchor="middle">Reference In</text>
<text class="t" x="478.7" y="2395.4" text-anchor="middle">Timecode In</text>
<text class="t" x="413.8" y="2413.7" text-anchor="middle">3.5mm</text>
<text class="t" x="413.8" y="2430.7" text-anchor="middle">Headphone</text>
<path class="k" d="M201,2022.5 L201,2190"/>
<circle class="kr" cx="201" cy="2193.5" r="3.9"/>
<path class="k" d="M317.5,1990 L317.5,2169"/>
<circle class="kr" cx="317.5" cy="2172.5" r="3.9"/>
<path class="k" d="M479.5,1999 L479.5,2153.5 L455,2153.5"/>
<circle class="kr" cx="451.5" cy="2153.5" r="3.9"/>
<path class="k" d="M479.5,2121 L455,2121"/>
<circle class="kr" cx="451.5" cy="2121" r="3.9"/>
<path class="k" d="M479.5,2360 L479.5,2186.5 L455,2186.5"/>
<circle class="kr" cx="451.5" cy="2186.5" r="3.9"/>
<path class="k" d="M284,2360 L284,2230 L403,2230"/>
<circle class="kr" cx="406.5" cy="2230" r="3.9"/>
<path class="k" d="M360,2360 L360,2272.5 L408,2272.5"/>
<circle class="kr" cx="411.5" cy="2272.5" r="3.9"/>
<path class="k" d="M414,2395 L414,2320"/>
<circle class="kr" cx="414" cy="2316.5" r="3.9"/>
<!-- d6 -->
<path class="l" d="M92,2585 L114,2585 Q118.5,2585 118.5,2590 L118.5,2762.5 L92,2762.5 Q87.5,2762.5 87.5,2757 L87.5,2645 L90,2640 L90,2612 L87.5,2608 L87.5,2590 Q87.5,2585 92,2585Z"/>
<path class="n" d="M87.5,2608 L104,2608 L104,2612 L90,2612 M87.5,2645 L104,2645 M104,2585 L104,2762.5 M110,2585 L110,2762.5"/>
<rect class="n" x="92" y="2630" width="12" height="30" rx="1"/>
<circle class="n" cx="98" cy="2651" r="2"/>
<path class="l" d="M197,2550 L197,2541 Q195,2537 198,2535 L207,2535 Q210,2537 208,2541 L208,2550Z"/>
<rect class="l" x="439" y="2540" width="25" height="9" rx="2"/>
<path class="n" d="M441.5,2540 L441.5,2546"/>
<path class="n" d="M444,2540 L444,2546"/>
<path class="n" d="M446.5,2540 L446.5,2546"/>
<path class="n" d="M449,2540 L449,2546"/>
<path class="n" d="M451.5,2540 L451.5,2546"/>
<path class="n" d="M454,2540 L454,2546"/>
<path class="n" d="M456.5,2540 L456.5,2546"/>
<path class="n" d="M459,2540 L459,2546"/>
<path class="n" d="M461.5,2540 L461.5,2546"/>
<path class="l" d="M556.5,2610 L579,2610 L579,2770 L556.5,2770Z"/>
<path class="s" d="M160,2537.5 L175,2537.5 L185,2550 L439,2550 L469,2540 L494,2537.5 L544,2537.5 L549,2545 L571.5,2570 L575,2610 L575,2775 L554,2829 L177.5,2829 L145,2826 L137.5,2822.5 L137.5,2802.5 L130,2790 L118.5,2770 L118.5,2585 L135,2585 L145,2557.5 Z"/>
<path class="l" d="M556.5,2610 L579,2610 L579,2770 L556.5,2770Z"/>
<rect class="n2" x="572" y="2618" width="2" height="6" rx="1"/>
<rect class="n2" x="572" y="2640" width="2" height="6" rx="1"/>
<rect class="n2" x="572" y="2662" width="2" height="6" rx="1"/>
<rect class="n2" x="572" y="2690" width="2" height="6" rx="1"/>
<rect class="n2" x="572" y="2715" width="2" height="6" rx="1"/>
<rect class="n2" x="572" y="2740" width="2" height="6" rx="1"/>
<rect class="n2" x="572" y="2760" width="2" height="6" rx="1"/>
<path class="n2" d="M562,2616 L562,2764 M566,2616 L566,2764"/>
<path class="n" d="M150,2562.5 L185,2562.5 L185,2550 M185,2562.5 L439,2562.5 Q470,2562 494,2550 L549,2545"/>
<path class="n" d="M135,2585 L160,2545 M185,2562.5 L185,2600"/>
<path class="n" d="M145,2770 L145,2660 Q146,2625 177.5,2605.5 L439,2605.5"/>
<path class="n" d="M152,2766 L152,2662 Q153,2632 181,2612 M145,2740 Q150,2775 187.5,2787.5 L540,2787.5"/>
<path class="n" d="M118.5,2770 Q140,2776 187.5,2776 L436,2776"/>
<path class="h" d="M152.5,2605 L177.5,2605.5 Q146,2625 145,2660 L145,2740 Q148,2768 170,2776 L150,2776 Q126,2765 124,2740 L124,2655 Q126,2622 152.5,2605Z" style="fill:url(#mesh3);stroke:#666"/>
<path class="n" d="M195,2554 L219,2554 L215,2559 L199,2559Z"/>
<path class="n" d="M305,2554 L329,2554 L325,2559 L309,2559Z"/>
<path class="n" d="M420,2554 L444,2554 L440,2559 L424,2559Z"/>
<rect class="n2" x="228" y="2552" width="22" height="3" rx="1"/>
<path class="s" d="M225,2562.5 L270,2562.5 L268,2590 Q267,2600 259,2600 L236,2600 Q228,2600 227,2590Z"/>
<rect class="s" x="230" y="2566" width="35" height="28" rx="5"/>
<rect class="n" x="233" y="2569" width="29" height="22" rx="3.5"/>
<path class="s" d="M364,2562.5 L409,2562.5 L407,2590 Q406,2600 398,2600 L375,2600 Q367,2600 366,2590Z"/>
<rect class="s" x="369" y="2566" width="35" height="28" rx="5"/>
<rect class="n" x="372" y="2569" width="29" height="22" rx="3.5"/>
<path class="hx" d="M228.7,2654 L228.7,2641 L238.1,2611 L263.1,2611 L272.5,2641 L272.5,2654Z"/>
<path class="hx" d="M228.7,2729 L228.7,2742 L238.1,2771 L263.1,2771 L272.5,2742 L272.5,2729Z"/>
<path class="hx" d="M307.0,2654 L307.0,2641 L316.4,2611 L341.4,2611 L350.79999999999995,2641 L350.79999999999995,2654Z"/>
<path class="hx" d="M307.0,2729 L307.0,2742 L316.4,2771 L341.4,2771 L350.79999999999995,2742 L350.79999999999995,2729Z"/>
<path class="hx" d="M272.2,2612 L306.8,2612 L297.8,2641 L281.2,2641Z"/>
<path class="hx" d="M272.2,2770 L306.8,2770 L297.8,2741 L281.2,2741Z"/>
<path class="hx" d="M351.2,2612 L385.8,2612 L376.8,2641 L360.2,2641Z"/>
<path class="hx" d="M351.2,2770 L385.8,2770 L376.8,2741 L360.2,2741Z"/>
<path class="hx" d="M395,2612 L420,2612 L430.5,2641 L430.5,2742.5 L421,2770 L395,2770 L386,2742.5 L386,2642.5Z"/>
<path class="s" d="M190,2654 L276,2654 L280,2660 L298,2660 L302,2654 L398,2654 L406,2664 L406,2719 L398,2729 L302,2729 L298,2723 L280,2723 L276,2729 L190,2729 L182.5,2719 L182.5,2664Z"/>
<path class="n" d="M193,2657 L274,2657 L278,2663 L300,2663 L304,2657 L395,2657 L402,2666 L402,2717 L395,2726 L304,2726 L300,2720 L278,2720 L274,2726 L193,2726 L186,2717 L186,2666Z"/>
<rect class="s" x="195" y="2666" width="189" height="51.5" rx="1.5"/>
<circle class="l" cx="216" cy="2691.5" r="10"/>
<circle class="s" cx="216" cy="2691.5" r="8.4"/>
<circle class="l" cx="265" cy="2691.5" r="10"/>
<circle class="s" cx="265" cy="2691.5" r="8.4"/>
<circle class="l" cx="313.5" cy="2691.5" r="10"/>
<circle class="s" cx="313.5" cy="2691.5" r="8.4"/>
<circle class="l" cx="362.5" cy="2691.5" r="10"/>
<circle class="s" cx="362.5" cy="2691.5" r="8.4"/>
<circle class="l" cx="240" cy="2691.5" r="6.5"/>
<circle class="s" cx="240" cy="2691.5" r="4.9"/>
<circle class="l" cx="289" cy="2691.5" r="6.5"/>
<circle class="s" cx="289" cy="2691.5" r="4.9"/>
<circle class="l" cx="338.5" cy="2691.5" r="6.5"/>
<circle class="s" cx="338.5" cy="2691.5" r="4.9"/>
<circle class="l" cx="204" cy="2674" r="3.6"/>
<circle class="n2" cx="204" cy="2674" r="2"/>
<circle class="l" cx="204" cy="2709" r="3.6"/>
<circle class="n2" cx="204" cy="2709" r="2"/>
<circle class="l" cx="375" cy="2674" r="3.6"/>
<circle class="n2" cx="375" cy="2674" r="2"/>
<circle class="l" cx="375" cy="2709" r="3.6"/>
<circle class="n2" cx="375" cy="2709" r="2"/>
<circle class="l" cx="289" cy="2674" r="3.6"/>
<circle class="n2" cx="289" cy="2674" r="2"/>
<circle class="l" cx="289" cy="2709" r="3.6"/>
<circle class="n2" cx="289" cy="2709" r="2"/>
<circle class="l" cx="210" cy="2650" r="3.2"/>
<circle class="n2" cx="210" cy="2650" r="1.8"/>
<circle class="l" cx="289" cy="2650" r="3.2"/>
<circle class="n2" cx="289" cy="2650" r="1.8"/>
<circle class="l" cx="369" cy="2650" r="3.2"/>
<circle class="n2" cx="369" cy="2650" r="1.8"/>
<circle class="l" cx="210" cy="2733" r="3.2"/>
<circle class="n2" cx="210" cy="2733" r="1.8"/>
<circle class="l" cx="289" cy="2733" r="3.2"/>
<circle class="n2" cx="289" cy="2733" r="1.8"/>
<circle class="l" cx="369" cy="2733" r="3.2"/>
<circle class="n2" cx="369" cy="2733" r="1.8"/>
<rect class="s" x="156.5" y="2670" width="21" height="37.5" rx="2"/>
<rect class="n" x="159" y="2672.5" width="16" height="32.5" rx="1.5"/>
<text class="y" font-size="14.5" text-anchor="middle" transform="translate(161.8,2688.7) rotate(90)" style="fill:#ececec;stroke:#444;stroke-width:.7" textLength="30" lengthAdjust="spacingAndGlyphs">12K</text>
<path class="n" d="M436,2605.5 L436,2776 M439,2550 L439,2776"/>
<path class="s" d="M452,2640 Q452,2634 460,2633 L528,2631 Q536,2631 536,2640 L536,2736 Q536,2744 528,2744 L460,2743 Q452,2742 452,2736Z"/>
<path class="n" d="M458,2641 Q458,2637 464,2637 L526,2636 Q531,2636 531,2642 L531,2734 Q531,2739 526,2739 L464,2739 Q458,2739 458,2735Z"/>
<path class="n" d="M446,2640 Q447,2626 462,2625 L540,2622 M446,2740 Q447,2752 462,2753 L540,2756 M446,2640 L446,2740 M541,2610 L546,2640 L546,2738 L541,2770"/>
<text class="yl" font-size="6.3" text-anchor="middle" transform="translate(519,2690) rotate(-90)" textLength="50" lengthAdjust="spacingAndGlyphs">Blackmagicdesign</text>
<rect class="n" x="505.5" y="2662" width="4" height="4.5" rx="1"/>
<rect class="n" x="511" y="2662" width="4" height="4.5" rx="1"/>
<rect class="n" x="516.5" y="2662" width="4" height="4.5" rx="1"/>
<text class="y" font-size="2.6" text-anchor="middle" transform="translate(483,2661) rotate(-90)">AUDIO IN</text>
<text class="y" font-size="2.6" text-anchor="middle" transform="translate(483,2723) rotate(-90)">AUDIO IN</text>
<circle class="n" cx="488.5" cy="2665" r="1.8"/>
<circle class="n" cx="488.5" cy="2719" r="1.8"/>
<path class="s" d="M462,2602 L468,2591 L476,2587 L497,2587 L505,2591 L511,2602 L506,2617 L467,2617 Z"/>
<circle class="l" cx="486.5" cy="2605" r="11"/>
<circle class="s" cx="486.5" cy="2605" r="8.5"/>
<circle class="n" cx="486.5" cy="2605" r="6"/>
<path class="s" d="M462,2779.5 L468,2790.5 L476,2794.5 L497,2794.5 L505,2790.5 L511,2779.5 L506,2764.5 L467,2764.5 Z"/>
<circle class="l" cx="486.5" cy="2776.5" r="11"/>
<circle class="s" cx="486.5" cy="2776.5" r="8.5"/>
<circle class="n" cx="486.5" cy="2776.5" r="6"/>
<path class="n" d="M187.5,2787.5 L187.5,2829 M540,2787.5 L549,2829"/>
<path class="s" d="M227.5,2806 Q227.5,2802.5 232,2802.5 L286,2802.5 Q290,2802.5 290,2806 L290,2812 L284,2820 L233,2820 L227.5,2812Z"/>
<rect class="s3" x="235" y="2808" width="20" height="7" rx="2"/>
<rect class="s3" x="262" y="2808" width="20" height="7" rx="2"/>
<text class="y" x="245" y="2813.6" font-size="4" text-anchor="middle">&#8211;</text>
<text class="y" x="272" y="2813.6" font-size="4" text-anchor="middle">+</text>
<text class="y" x="315" y="2805.5" font-size="3" text-anchor="middle">OFF  O  ON</text>
<rect class="s" x="305" y="2808" width="20" height="12" rx="2"/>
<rect class="s3" x="309" y="2810" width="9" height="10" rx="1"/>
<path class="n" d="M196,2820 L200,2812 L218,2812 L222,2820 M345,2820 L349,2812 L367,2812 L371,2820 M500,2820 L504,2812 L522,2812 L526,2820"/>
<path class="n" d="M290,2820 L345,2820 M330,2826 L400,2826"/>
<rect class="h" x="145" y="2824" width="32.5" height="6" rx="1.5" style="fill:url(#mesh)"/>
<text class="yl" x="455" y="2826.5" font-size="2.4" text-anchor="middle">Blackmagicdesign</text>
<text class="t" x="289" y="2487.6" text-anchor="middle">3/8 Inch</text>
<text class="t" x="289" y="2504.6" text-anchor="middle">Mounting Points</text>
<text class="t" x="408" y="2487.6" text-anchor="middle">1/4 Inch</text>
<text class="t" x="408" y="2504.6" text-anchor="middle">Mounting Points</text>
<text class="t" x="549.5" y="2504.5" text-anchor="middle">XLR Audio In</text>
<path class="k" d="M289,2515 L289,2653.5"/>
<path class="k" d="M214,2653.5 L363.5,2653.5"/>
<path class="k" d="M215,2653.5 L215,2669"/>
<circle class="kr" cx="215" cy="2672.5" r="3.9"/>
<path class="k" d="M265,2653.5 L265,2669"/>
<circle class="kr" cx="265" cy="2672.5" r="3.9"/>
<path class="k" d="M313.5,2653.5 L313.5,2669"/>
<circle class="kr" cx="313.5" cy="2672.5" r="3.9"/>
<path class="k" d="M362.5,2653.5 L362.5,2669"/>
<circle class="kr" cx="362.5" cy="2672.5" r="3.9"/>
<path class="k" d="M408,2515 L408,2727 L239,2727"/>
<path class="k" d="M240,2727 L240,2710"/>
<circle class="kr" cx="240" cy="2706.5" r="3.9"/>
<path class="k" d="M289,2727 L289,2710"/>
<circle class="kr" cx="289" cy="2706.5" r="3.9"/>
<path class="k" d="M338.5,2727 L338.5,2710"/>
<circle class="kr" cx="338.5" cy="2706.5" r="3.9"/>
<path class="k" d="M550.3,2516 L550.5,2685.5"/>
<circle class="kr" cx="550.5" cy="2689" r="3.9"/>
<!-- d7 -->
<path class="l" d="M92,3000 L110,3000 L115,3005 L115,3176 L100,3176 L92,3170 Q87.5,3168 87.5,3162 L87.5,3008 Q87.5,3000 92,3000Z"/>
<path class="n" d="M98,3000 L98,3172 M104,3003 L104,3176 M110,3000 L110,3176 M87.5,3035 L98,3035 M87.5,3130 L98,3130 M98,3050 L104,3050 M98,3120 L104,3120"/>
<path class="n" d="M100,3176 L100,3160 L115,3160"/>
<circle class="n" cx="106" cy="3032" r="2"/>
<circle class="n" cx="106" cy="3151" r="2"/>
<path class="s" d="M135,2939 L551.5,2939 L556.5,2945 L569,2990 L579,2994 L579,3158.5 L569,3163.5 L554,3201 L531.5,3223.5 L484,3226 L200,3228.5 L170,3226 L152.5,3218.5 L130,3176 L115,3156 L115,2985 L120,2975 L135,2960 Z"/>
<path class="s" d="M145,2939 L147,2935 L207.5,2935 L209,2939"/>
<path class="n" d="M159.1,2935 L159.1,2939"/>
<path class="n" d="M171.2,2935 L171.2,2939"/>
<path class="n" d="M183.3,2935 L183.3,2939"/>
<path class="n" d="M195.4,2935 L195.4,2939"/>
<path class="n" d="M135,2950 L556.5,2950"/>
<path class="n" d="M182,2950 L186,2957.5 L203,2957.5 L207,2950"/>
<path class="n" d="M351.5,2950 L355.5,2957.5 L372.5,2957.5 L376.5,2950"/>
<path class="n" d="M514,2950 L518,2957.5 L535,2957.5 L539,2950"/>
<path class="n" d="M115,2985 Q140,2975 167.5,2972.5 L450,2972.5 L456,2990 L565,2993 M132.5,3135 L132.5,3030 L167.5,2972.5"/>
<path class="n" d="M132.5,3135 Q135,3160 152.5,3180 L170,3186 L465,3186 L475,3165 L569,3163.5"/>
<path class="n" d="M152.5,3130 L152.5,3022.5 L170,2995 L215,2995 L220,3005 M152.5,3130 L170,3158 L215,3158 L220,3148"/>
<path class="n" d="M130,3176 L160,3201 L540,3201 M160,3201 L170,3226 M225,3201 L225,3216 L484,3216 L490,3201"/>
<path class="n2" d="M228,3216 L228,3222 L440,3222"/>
<rect class="h" x="431.5" y="3220" width="22.5" height="7" rx="1.5" style="fill:url(#mesh)"/>
<path class="l" d="M199,3217 L203,3217 L202,3223 L205,3227 L197,3227 L200,3223Z"/>
<rect class="n2" x="180" y="3204" width="16" height="4" rx="1"/>
<rect class="n2" x="400" y="3206" width="16" height="4" rx="1"/>
<path class="n" d="M217,2978 L442,2978 Q446,2978 447,2982 L458,3040 L458,3113 L447,3170 Q446,3175 442,3175 L217,3175 Q213,3175 212,3170 L203,3113 L203,3040 L212,2982 Q213,2978 217,2978Z"/>
<clipPath id="fanclip"><path d="M232.0,2995.0 L270.5,2995.0 L259.5,3038.0 L242.0,3027.0 L232.0,3004.0Z M232.0,3158.0 L270.5,3158.0 L259.5,3115.0 L242.0,3126.0 L232.0,3149.0Z M278.6,2995.0 L303.6,2995.0 L312.7,3045.0 L267.3,3045.0Z M278.6,3158.0 L303.6,3158.0 L312.7,3108.0 L267.3,3108.0Z M311.4,2995.0 L350.5,2995.0 L341.4,3039.0 L321.8,3039.0Z M311.4,3158.0 L350.5,3158.0 L341.4,3114.0 L321.8,3114.0Z M359.5,2995.0 L384.0,2995.0 L394.5,3045.0 L346.8,3045.0Z M359.5,3158.0 L384.0,3158.0 L394.5,3108.0 L346.8,3108.0Z M390.0,2995.0 L428.6,2995.0 L428.6,3004.0 L419.0,3027.0 L401.4,3038.0Z M390.0,3158.0 L428.6,3158.0 L428.6,3149.0 L419.0,3126.0 L401.4,3115.0Z"/></clipPath>
<path class="l" d="M232.0,2995.0 L270.5,2995.0 L259.5,3038.0 L242.0,3027.0 L232.0,3004.0Z M232.0,3158.0 L270.5,3158.0 L259.5,3115.0 L242.0,3126.0 L232.0,3149.0Z M278.6,2995.0 L303.6,2995.0 L312.7,3045.0 L267.3,3045.0Z M278.6,3158.0 L303.6,3158.0 L312.7,3108.0 L267.3,3108.0Z M311.4,2995.0 L350.5,2995.0 L341.4,3039.0 L321.8,3039.0Z M311.4,3158.0 L350.5,3158.0 L341.4,3114.0 L321.8,3114.0Z M359.5,2995.0 L384.0,2995.0 L394.5,3045.0 L346.8,3045.0Z M359.5,3158.0 L384.0,3158.0 L394.5,3108.0 L346.8,3108.0Z M390.0,2995.0 L428.6,2995.0 L428.6,3004.0 L419.0,3027.0 L401.4,3038.0Z M390.0,3158.0 L428.6,3158.0 L428.6,3149.0 L419.0,3126.0 L401.4,3115.0Z" style="stroke:none;fill:#d4d4d4"/>
<g clip-path="url(#fanclip)"><path d="M360.6,3083.9 L365.5,3089.1 L369.6,3095.3 L372.7,3102.5 L374.7,3110.5 L375.4,3119.2 L374.8,3128.3 L372.6,3137.7 L369.0,3147.2 L363.8,3156.5 L357.0,3165.4 L348.7,3173.7 L338.9,3181.2 M349.0,3100.9 L349.5,3108.0 L348.6,3115.4 L346.4,3122.9 L342.7,3130.3 L337.7,3137.4 L331.3,3144.0 L323.7,3149.8 L314.8,3154.7 L304.8,3158.5 L293.9,3161.0 L282.2,3162.0 L269.9,3161.5 M329.2,3106.4 L325.0,3112.2 L319.6,3117.3 L313.1,3121.6 L305.5,3125.0 L297.1,3127.2 L288.0,3128.1 L278.4,3127.6 L268.4,3125.7 L258.3,3122.2 L248.4,3117.0 L238.7,3110.3 L229.6,3102.0 M310.5,3098.0 L303.6,3099.7 L296.2,3100.1 L288.4,3099.2 L280.4,3096.9 L272.6,3093.2 L265.0,3088.1 L257.9,3081.5 L251.6,3073.6 L246.1,3064.4 L241.8,3054.1 L238.7,3042.8 L237.1,3030.6 M301.6,3079.5 L295.3,3076.3 L289.3,3071.9 L283.9,3066.2 L279.3,3059.3 L275.6,3051.4 L273.1,3042.6 L271.9,3033.0 L272.1,3022.9 L273.8,3012.4 L277.1,3001.7 L282.1,2991.0 L288.7,2980.6 M306.7,3059.6 L303.9,3053.1 L302.1,3045.8 L301.6,3038.0 L302.5,3029.8 L304.8,3021.4 L308.6,3013.0 L313.8,3004.9 L320.5,2997.3 L328.5,2990.3 L338.0,2984.2 L348.6,2979.2 L360.3,2975.5 M323.4,3047.6 L325.4,3040.8 L328.7,3034.1 L333.4,3027.8 L339.3,3022.1 L346.5,3017.1 L354.7,3013.1 L363.9,3010.3 L374.0,3008.7 L384.6,3008.6 L395.8,3010.0 L407.1,3013.0 L418.5,3017.7 M343.9,3049.2 L349.8,3045.2 L356.6,3042.2 L364.3,3040.4 L372.5,3039.8 L381.2,3040.6 L390.0,3042.9 L398.9,3046.6 L407.6,3051.9 L415.9,3058.6 L423.5,3066.8 L430.2,3076.5 L435.9,3087.4 M358.5,3063.5 L365.6,3064.3 L372.8,3066.4 L379.8,3069.9 L386.5,3074.8 L392.6,3080.9 L397.9,3088.4 L402.4,3097.0 L405.6,3106.6 L407.6,3117.0 L408.2,3128.2 L407.2,3139.9 L404.5,3152.0" fill="none" stroke="#111" stroke-width="11" stroke-linecap="round"/><circle cx="331.5" cy="3076.5" r="103" fill="none" stroke="#111" stroke-width="9"/></g>
<path class="hx7" d="M232.0,2995.0 L270.5,2995.0 L259.5,3038.0 L242.0,3027.0 L232.0,3004.0Z M232.0,3158.0 L270.5,3158.0 L259.5,3115.0 L242.0,3126.0 L232.0,3149.0Z M278.6,2995.0 L303.6,2995.0 L312.7,3045.0 L267.3,3045.0Z M278.6,3158.0 L303.6,3158.0 L312.7,3108.0 L267.3,3108.0Z M311.4,2995.0 L350.5,2995.0 L341.4,3039.0 L321.8,3039.0Z M311.4,3158.0 L350.5,3158.0 L341.4,3114.0 L321.8,3114.0Z M359.5,2995.0 L384.0,2995.0 L394.5,3045.0 L346.8,3045.0Z M359.5,3158.0 L384.0,3158.0 L394.5,3108.0 L346.8,3108.0Z M390.0,2995.0 L428.6,2995.0 L428.6,3004.0 L419.0,3027.0 L401.4,3038.0Z M390.0,3158.0 L428.6,3158.0 L428.6,3149.0 L419.0,3126.0 L401.4,3115.0Z"/>
<circle class="l" cx="242" cy="3008.6" r="4.6"/>
<circle class="l" cx="377.7" cy="3008.6" r="4.6"/>
<circle class="l" cx="242" cy="3144.4" r="4.6"/>
<circle class="l" cx="377.7" cy="3144.4" r="4.6"/>
<path class="s" d="M182,3045 L480,3045 Q484,3045 484,3049 L484,3103.5 Q484,3107.5 480,3107.5 L182,3107.5 Q177.5,3107.5 177.5,3103.5 L177.5,3049 Q177.5,3045 182,3045Z"/>
<rect class="s" x="186" y="3053.5" width="292" height="45.5" rx="2"/>
<circle class="l" cx="236" cy="3076.5" r="10"/>
<circle class="s" cx="236" cy="3076.5" r="8.4"/>
<circle class="l" cx="284" cy="3076.5" r="10"/>
<circle class="s" cx="284" cy="3076.5" r="8.4"/>
<circle class="l" cx="331.5" cy="3076.5" r="10"/>
<circle class="s" cx="331.5" cy="3076.5" r="8.4"/>
<circle class="l" cx="380.5" cy="3076.5" r="10"/>
<circle class="s" cx="380.5" cy="3076.5" r="8.4"/>
<circle class="l" cx="427.5" cy="3076.5" r="10"/>
<circle class="s" cx="427.5" cy="3076.5" r="8.4"/>
<circle class="l" cx="260" cy="3076.5" r="6.5"/>
<circle class="s" cx="260" cy="3076.5" r="4.9"/>
<circle class="l" cx="307.5" cy="3076.5" r="6.5"/>
<circle class="s" cx="307.5" cy="3076.5" r="4.9"/>
<circle class="l" cx="356.5" cy="3076.5" r="6.5"/>
<circle class="s" cx="356.5" cy="3076.5" r="4.9"/>
<circle class="l" cx="404" cy="3076.5" r="6.5"/>
<circle class="s" cx="404" cy="3076.5" r="4.9"/>
<circle class="l" cx="201.5" cy="3062.5" r="3.6"/>
<circle class="n2" cx="201.5" cy="3062.5" r="2"/>
<circle class="l" cx="201.5" cy="3091.5" r="3.6"/>
<circle class="n2" cx="201.5" cy="3091.5" r="2"/>
<circle class="l" cx="298.5" cy="3061.5" r="3.6"/>
<circle class="n2" cx="298.5" cy="3061.5" r="2"/>
<circle class="l" cx="298.5" cy="3091.5" r="3.6"/>
<circle class="n2" cx="298.5" cy="3091.5" r="2"/>
<circle class="l" cx="395" cy="3061.5" r="3.6"/>
<circle class="n2" cx="395" cy="3061.5" r="2"/>
<circle class="l" cx="395" cy="3091.5" r="3.6"/>
<circle class="n2" cx="395" cy="3091.5" r="2"/>
<circle class="l" cx="464" cy="3062.5" r="3.6"/>
<circle class="n2" cx="464" cy="3062.5" r="2"/>
<circle class="l" cx="464" cy="3091.5" r="3.6"/>
<circle class="n2" cx="464" cy="3091.5" r="2"/>
<rect class="n2" x="157.5" y="3062.5" width="15" height="30" rx="1.5"/>
<path class="s" d="M172.5,2997.5 L204.5,2997.5 L200.5,3019.5 L176.5,3019.5 Z"/>
<circle class="l" cx="188.5" cy="3008.5" r="6"/>
<circle class="s" cx="188.5" cy="3008.5" r="4"/>
<path class="s" d="M172.5,3156 L204.5,3156 L200.5,3134 L176.5,3134 Z"/>
<circle class="l" cx="188.5" cy="3145" r="6"/>
<circle class="s" cx="188.5" cy="3145" r="4"/>
<path class="s" d="M501.5,2997.5 L533.5,2997.5 L529.5,3019.5 L505.5,3019.5 Z"/>
<circle class="l" cx="517.5" cy="3008.5" r="6"/>
<circle class="s" cx="517.5" cy="3008.5" r="4"/>
<path class="s" d="M501.5,3156 L533.5,3156 L529.5,3134 L505.5,3134 Z"/>
<circle class="l" cx="517.5" cy="3145" r="6"/>
<circle class="s" cx="517.5" cy="3145" r="4"/>
<circle class="l" cx="188.5" cy="3027.5" r="3.6"/>
<circle class="n2" cx="188.5" cy="3027.5" r="2"/>
<circle class="l" cx="188.5" cy="3124.5" r="3.6"/>
<circle class="n2" cx="188.5" cy="3124.5" r="2"/>
<path class="s" d="M499,3027.5 L536,3027.5 Q545,3028 551.5,3042 L551.5,3111 Q545,3125 536,3126 L499,3126 Q493,3125 491.5,3111 L491.5,3042 Q493,3028 499,3027.5Z"/>
<path class="n" d="M501,3031 L534,3031 Q543,3032 548,3044 L548,3109 Q543,3121.5 534,3122.5 L501,3122.5 Q496,3121.5 495,3109 L495,3044 Q496,3032 501,3031Z"/>
<circle class="l" cx="517.5" cy="3027.5" r="5.5"/>
<circle class="l" cx="517.5" cy="3027.5" r="3.8"/>
<circle class="n2" cx="517.5" cy="3027.5" r="2.1"/>
<circle class="l" cx="517.5" cy="3124.5" r="5.5"/>
<circle class="l" cx="517.5" cy="3124.5" r="3.8"/>
<circle class="n2" cx="517.5" cy="3124.5" r="2.1"/>
<path class="n" d="M470,2990 L480,3045 M480,3107.5 L470,3165 M484,3049 L488,3040 L488,3113 L484,3103"/>
<path class="n" d="M556,3000 L556,3160 M565,2993 L565,3163.5"/>
<text class="t" x="332.2" y="2887.6" text-anchor="middle">3/8 Inch</text>
<text class="t" x="332.2" y="2904.6" text-anchor="middle">Mounting Points</text>
<text class="t" x="455.5" y="2887.6" text-anchor="middle">1/4 Inch</text>
<text class="t" x="455.5" y="2904.6" text-anchor="middle">Mounting Points</text>
<path class="k" d="M332,2915.7 L332,3054"/>
<path class="k" d="M235,3036.5 L428.5,3036.5"/>
<path class="k" d="M236,3036.5 L236,3054"/>
<circle class="kr" cx="236" cy="3057.5" r="3.9"/>
<path class="k" d="M284,3036.5 L284,3054"/>
<circle class="kr" cx="284" cy="3057.5" r="3.9"/>
<path class="k" d="M331.5,3036.5 L331.5,3054"/>
<circle class="kr" cx="331.5" cy="3057.5" r="3.9"/>
<path class="k" d="M380.5,3036.5 L380.5,3054"/>
<circle class="kr" cx="380.5" cy="3057.5" r="3.9"/>
<path class="k" d="M427.5,3036.5 L427.5,3054"/>
<circle class="kr" cx="427.5" cy="3057.5" r="3.9"/>
<path class="k" d="M455.2,2915.7 L455.5,3112.5 L259,3112.5"/>
<path class="k" d="M260,3112.5 L260,3096.5"/>
<circle class="kr" cx="260" cy="3093" r="3.9"/>
<path class="k" d="M307.5,3112.5 L307.5,3096.5"/>
<circle class="kr" cx="307.5" cy="3093" r="3.9"/>
<path class="k" d="M356.5,3112.5 L356.5,3096.5"/>
<circle class="kr" cx="356.5" cy="3093" r="3.9"/>
<path class="k" d="M404,3112.5 L404,3096.5"/>
<circle class="kr" cx="404" cy="3093" r="3.9"/>
</svg>
</body></html>
